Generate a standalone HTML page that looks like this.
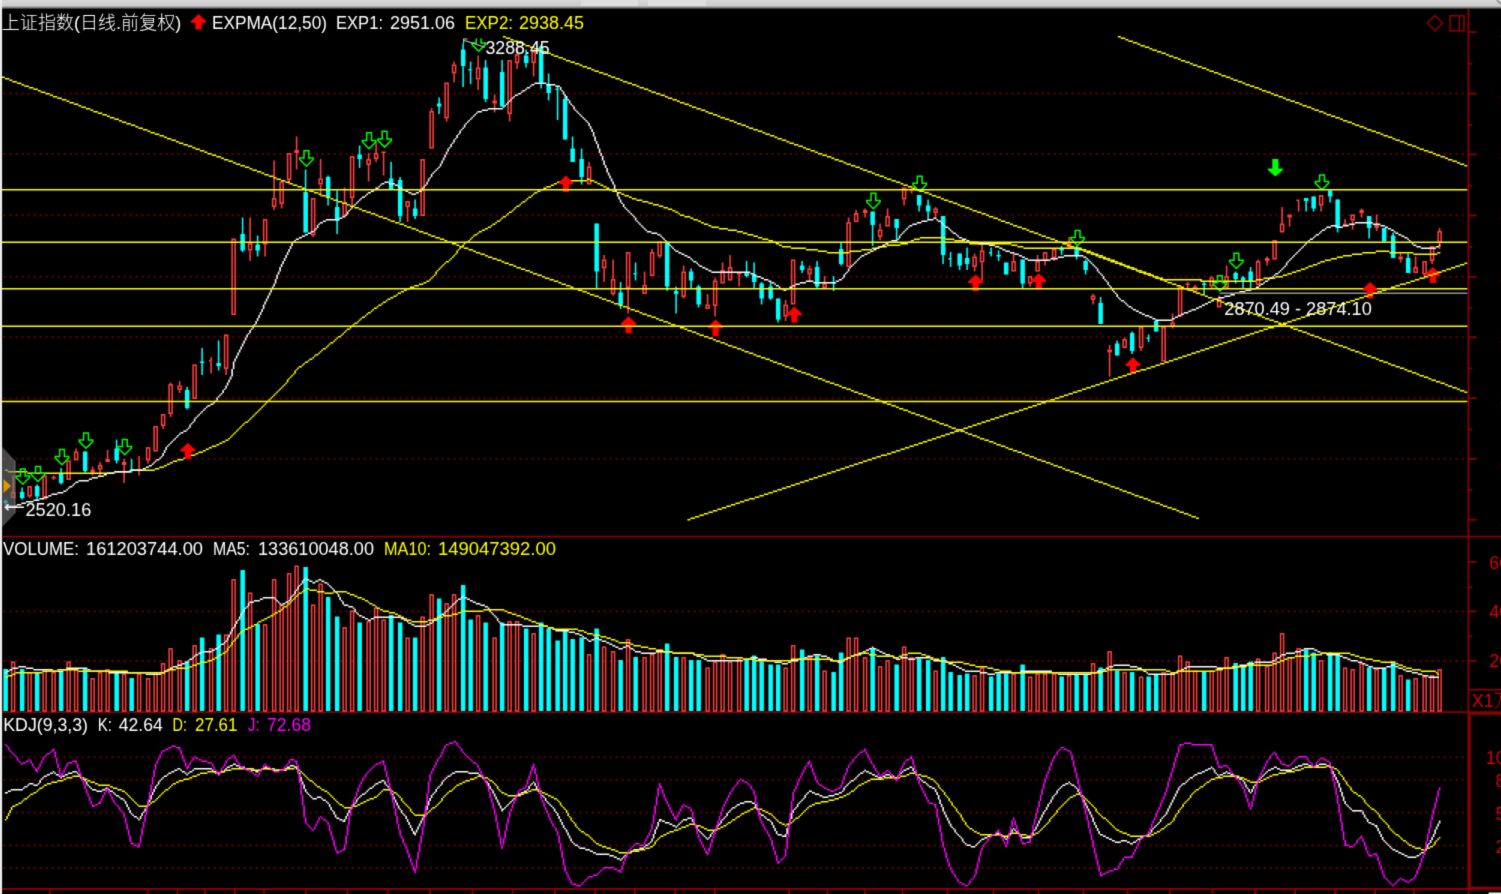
<!DOCTYPE html><html><head><meta charset="utf-8"><title>chart</title><style>html,body{margin:0;padding:0;background:#000;overflow:hidden}svg{display:block}text{font-family:"Liberation Sans","Noto Sans CJK SC",sans-serif;font-size:18px}</style></head><body>
<svg width="1501" height="894" viewBox="0 0 1501 894">
<defs><linearGradient id="tb" x1="0" y1="0" x2="0" y2="1"><stop offset="0" stop-color="#d6d6d6"/><stop offset="0.62" stop-color="#cdcdcd"/><stop offset="0.8" stop-color="#7a7a7a"/><stop offset="1" stop-color="#000"/></linearGradient>
<filter id="cv" x="0" y="0" width="1501" height="894" filterUnits="userSpaceOnUse" color-interpolation-filters="sRGB"><feConvolveMatrix order="3" kernelMatrix="1 6 1 6 36 6 1 6 1" divisor="64" edgeMode="duplicate" preserveAlpha="true"/></filter>
<clipPath id="cl"><rect x="2" y="35.5" width="1466" height="501"/></clipPath>
<clipPath id="cm"><rect x="2" y="38.5" width="1466" height="498"/></clipPath></defs>
<g filter="url(#cv)">
<rect width="1501" height="894" fill="#000"/>
<rect x="0" y="0" width="1501" height="9.5" fill="url(#tb)"/>
<rect x="581" y="0" width="57" height="6" fill="#dedede"/><rect x="648" y="0" width="58" height="6" fill="#dedede"/>
<circle cx="1503.5" cy="-3" r="7" fill="none" stroke="#8c8c8c" stroke-width="1.6"/>
<rect x="0" y="0" width="2.1" height="894" fill="#ebebeb"/>
<line x1="3.6" y1="93.6" x2="1464" y2="93.6" stroke="#680000" stroke-width="2" stroke-dasharray="2 4"/>
<line x1="3.6" y1="154.1" x2="1464" y2="154.1" stroke="#680000" stroke-width="2" stroke-dasharray="2 4"/>
<line x1="3.6" y1="215.3" x2="1464" y2="215.3" stroke="#680000" stroke-width="2" stroke-dasharray="2 4"/>
<line x1="3.6" y1="276.8" x2="1464" y2="276.8" stroke="#680000" stroke-width="2" stroke-dasharray="2 4"/>
<line x1="3.6" y1="337.1" x2="1464" y2="337.1" stroke="#680000" stroke-width="2" stroke-dasharray="2 4"/>
<line x1="3.6" y1="398.3" x2="1464" y2="398.3" stroke="#680000" stroke-width="2" stroke-dasharray="2 4"/>
<line x1="3.6" y1="458.7" x2="1464" y2="458.7" stroke="#680000" stroke-width="2" stroke-dasharray="2 4"/>
<line x1="3.6" y1="611.4" x2="1464" y2="611.4" stroke="#680000" stroke-width="2" stroke-dasharray="2 4"/>
<line x1="3.6" y1="661.1" x2="1464" y2="661.1" stroke="#680000" stroke-width="2" stroke-dasharray="2 4"/>
<line x1="3.6" y1="757.2" x2="1464" y2="757.2" stroke="#680000" stroke-width="2" stroke-dasharray="2 4"/>
<line x1="3.6" y1="779.7" x2="1464" y2="779.7" stroke="#680000" stroke-width="2" stroke-dasharray="2 4"/>
<line x1="3.6" y1="812.5" x2="1464" y2="812.5" stroke="#680000" stroke-width="2" stroke-dasharray="2 4"/>
<line x1="3.6" y1="845.4" x2="1464" y2="845.4" stroke="#680000" stroke-width="2" stroke-dasharray="2 4"/>
<line x1="3.6" y1="868.1" x2="1464" y2="868.1" stroke="#680000" stroke-width="2" stroke-dasharray="2 4"/>
<g id="candles">
<path d="M5.6 499.5V505.5" stroke="#00ffff" stroke-width="1.55"/><rect x="3.4" y="501.0" width="4.5" height="1.5" fill="#00ffff"/>
<path d="M13.1 475.5V492.0" stroke="#ff4040" stroke-width="1.55"/><rect x="11.62" y="492.8" width="3.0" height="4.5" fill="none" stroke="#ff4040" stroke-width="1.55"/>
<path d="M22.1 487.5V499.5" stroke="#00ffff" stroke-width="1.55"/><rect x="19.9" y="492.0" width="4.5" height="6.0" fill="#00ffff"/>
<path d="M29.6 496.5V498.0" stroke="#ff4040" stroke-width="1.55"/><rect x="28.12" y="486.8" width="3.0" height="9.0" fill="none" stroke="#ff4040" stroke-width="1.55"/>
<path d="M37.1 484.5V501.0" stroke="#00ffff" stroke-width="1.55"/><rect x="34.9" y="486.0" width="4.5" height="10.5" fill="#00ffff"/>
<rect x="43.12" y="476.2" width="3.0" height="22.5" fill="none" stroke="#ff4040" stroke-width="1.55"/>
<path d="M53.6 475.5V477.0" stroke="#ff4040" stroke-width="1.55"/><path d="M53.6 478.5V480.0" stroke="#ff4040" stroke-width="1.55"/><rect x="51.4" y="477.0" width="4.5" height="1.5" fill="#ff4040"/>
<path d="M61.1 468.0V484.5" stroke="#00ffff" stroke-width="1.55"/><rect x="58.9" y="474.0" width="4.5" height="9.0" fill="#00ffff"/>
<rect x="67.12" y="461.2" width="3.0" height="18.0" fill="none" stroke="#ff4040" stroke-width="1.55"/>
<path d="M76.1 448.5V451.5" stroke="#ff4040" stroke-width="1.55"/><rect x="74.62" y="452.2" width="3.0" height="7.5" fill="none" stroke="#ff4040" stroke-width="1.55"/>
<path d="M85.1 451.5V472.5" stroke="#00ffff" stroke-width="1.55"/><rect x="82.9" y="451.5" width="4.5" height="19.5" fill="#00ffff"/>
<path d="M92.6 466.5V469.5" stroke="#ff4040" stroke-width="1.55"/><path d="M92.6 472.5V475.5" stroke="#ff4040" stroke-width="1.55"/><rect x="90.4" y="469.5" width="4.5" height="3.0" fill="#ff4040"/>
<path d="M100.1 462.0V465.0" stroke="#ff4040" stroke-width="1.55"/><path d="M100.1 469.5V475.5" stroke="#ff4040" stroke-width="1.55"/><rect x="98.62" y="465.8" width="3.0" height="3.0" fill="none" stroke="#ff4040" stroke-width="1.55"/>
<path d="M107.6 450.0V459.0" stroke="#ff4040" stroke-width="1.55"/><rect x="105.4" y="459.0" width="4.5" height="3.0" fill="#ff4040"/>
<path d="M116.6 439.5V463.5" stroke="#00ffff" stroke-width="1.55"/><rect x="114.4" y="448.5" width="4.5" height="12.0" fill="#00ffff"/>
<path d="M124.1 459.0V462.0" stroke="#ff4040" stroke-width="1.55"/><path d="M124.1 465.0V483.0" stroke="#ff4040" stroke-width="1.55"/><rect x="121.9" y="462.0" width="4.5" height="3.0" fill="#ff4040"/>
<path d="M131.6 459.0V472.5" stroke="#00ffff" stroke-width="1.55"/><rect x="129.4" y="469.5" width="4.5" height="1.5" fill="#00ffff"/>
<path d="M139.1 456.0V469.5" stroke="#ff4040" stroke-width="1.55"/><path d="M139.1 471.0V475.5" stroke="#ff4040" stroke-width="1.55"/><rect x="136.9" y="469.5" width="4.5" height="1.5" fill="#ff4040"/>
<path d="M148.1 460.5V463.5" stroke="#ff4040" stroke-width="1.55"/><rect x="146.62" y="447.8" width="3.0" height="12.0" fill="none" stroke="#ff4040" stroke-width="1.55"/>
<rect x="154.12" y="426.8" width="3.0" height="24.0" fill="none" stroke="#ff4040" stroke-width="1.55"/>
<path d="M163.1 426.0V429.0" stroke="#ff4040" stroke-width="1.55"/><rect x="161.62" y="414.8" width="3.0" height="10.5" fill="none" stroke="#ff4040" stroke-width="1.55"/>
<path d="M170.6 382.5V384.0" stroke="#ff4040" stroke-width="1.55"/><path d="M170.6 414.0V417.0" stroke="#ff4040" stroke-width="1.55"/><rect x="169.12" y="384.8" width="3.0" height="28.5" fill="none" stroke="#ff4040" stroke-width="1.55"/>
<path d="M179.6 381.0V385.5" stroke="#ff4040" stroke-width="1.55"/><path d="M179.6 390.0V393.0" stroke="#ff4040" stroke-width="1.55"/><rect x="178.12" y="386.2" width="3.0" height="3.0" fill="none" stroke="#ff4040" stroke-width="1.55"/>
<path d="M187.1 387.0V409.5" stroke="#00ffff" stroke-width="1.55"/><rect x="184.9" y="390.0" width="4.5" height="18.0" fill="#00ffff"/>
<rect x="193.12" y="365.2" width="3.0" height="33.0" fill="none" stroke="#ff4040" stroke-width="1.55"/>
<path d="M202.1 348.0V375.0" stroke="#00ffff" stroke-width="1.55"/><rect x="199.9" y="361.5" width="4.5" height="1.5" fill="#00ffff"/>
<path d="M211.1 357.0V360.0" stroke="#ff4040" stroke-width="1.55"/><path d="M211.1 361.5V373.5" stroke="#ff4040" stroke-width="1.55"/><rect x="208.9" y="360.0" width="3.0" height="1.5" fill="#ff4040"/>
<path d="M218.6 340.5V370.5" stroke="#00ffff" stroke-width="1.55"/><rect x="216.4" y="363.0" width="4.5" height="3.0" fill="#00ffff"/>
<path d="M226.1 369.0V375.0" stroke="#ff4040" stroke-width="1.55"/><rect x="224.62" y="335.2" width="3.0" height="33.0" fill="none" stroke="#ff4040" stroke-width="1.55"/>
<rect x="232.12" y="239.2" width="3.0" height="75.0" fill="none" stroke="#ff4040" stroke-width="1.55"/>
<path d="M242.6 217.5V252.0" stroke="#00ffff" stroke-width="1.55"/><rect x="240.4" y="234.0" width="4.5" height="16.5" fill="#00ffff"/>
<path d="M250.1 217.5V243.0" stroke="#ff4040" stroke-width="1.55"/><path d="M250.1 250.5V261.0" stroke="#ff4040" stroke-width="1.55"/><rect x="248.62" y="243.8" width="3.0" height="6.0" fill="none" stroke="#ff4040" stroke-width="1.55"/>
<path d="M257.6 235.5V256.5" stroke="#00ffff" stroke-width="1.55"/><rect x="255.4" y="244.5" width="4.5" height="6.0" fill="#00ffff"/>
<path d="M265.1 244.5V256.5" stroke="#ff4040" stroke-width="1.55"/><rect x="263.62" y="219.8" width="3.0" height="24.0" fill="none" stroke="#ff4040" stroke-width="1.55"/>
<path d="M274.1 160.5V198.0" stroke="#ff4040" stroke-width="1.55"/><path d="M274.1 207.0V210.0" stroke="#ff4040" stroke-width="1.55"/><rect x="272.62" y="198.8" width="3.0" height="7.5" fill="none" stroke="#ff4040" stroke-width="1.55"/>
<path d="M281.6 204.0V208.5" stroke="#ff4040" stroke-width="1.55"/><rect x="280.12" y="182.2" width="3.0" height="21.0" fill="none" stroke="#ff4040" stroke-width="1.55"/>
<path d="M289.1 180.0V184.5" stroke="#ff4040" stroke-width="1.55"/><rect x="287.62" y="153.8" width="3.0" height="25.5" fill="none" stroke="#ff4040" stroke-width="1.55"/>
<path d="M296.6 136.5V150.0" stroke="#ff4040" stroke-width="1.55"/><path d="M296.6 153.0V169.5" stroke="#ff4040" stroke-width="1.55"/><rect x="294.4" y="150.0" width="4.5" height="3.0" fill="#ff4040"/>
<path d="M305.6 169.5V232.5" stroke="#00ffff" stroke-width="1.55"/><rect x="303.4" y="192.0" width="4.5" height="40.5" fill="#00ffff"/>
<path d="M313.1 235.5V237.0" stroke="#ff4040" stroke-width="1.55"/><rect x="311.62" y="198.8" width="3.0" height="36.0" fill="none" stroke="#ff4040" stroke-width="1.55"/>
<path d="M320.6 159.0V178.5" stroke="#ff4040" stroke-width="1.55"/><path d="M320.6 184.5V196.5" stroke="#ff4040" stroke-width="1.55"/><rect x="319.12" y="179.2" width="3.0" height="4.5" fill="none" stroke="#ff4040" stroke-width="1.55"/>
<path d="M328.1 175.5V205.5" stroke="#00ffff" stroke-width="1.55"/><rect x="325.9" y="177.0" width="4.5" height="19.5" fill="#00ffff"/>
<path d="M337.1 190.5V234.0" stroke="#00ffff" stroke-width="1.55"/><rect x="334.9" y="207.0" width="4.5" height="13.5" fill="#00ffff"/>
<path d="M344.6 187.5V202.5" stroke="#ff4040" stroke-width="1.55"/><rect x="343.12" y="203.2" width="3.0" height="12.0" fill="none" stroke="#ff4040" stroke-width="1.55"/>
<path d="M352.1 198.0V205.5" stroke="#ff4040" stroke-width="1.55"/><rect x="350.62" y="156.8" width="3.0" height="40.5" fill="none" stroke="#ff4040" stroke-width="1.55"/>
<path d="M359.6 145.5V168.0" stroke="#00ffff" stroke-width="1.55"/><rect x="357.4" y="154.5" width="4.5" height="4.5" fill="#00ffff"/>
<path d="M368.6 153.0V159.0" stroke="#ff4040" stroke-width="1.55"/><path d="M368.6 165.0V181.5" stroke="#ff4040" stroke-width="1.55"/><rect x="367.12" y="159.8" width="3.0" height="4.5" fill="none" stroke="#ff4040" stroke-width="1.55"/>
<path d="M376.1 142.5V153.0" stroke="#ff4040" stroke-width="1.55"/><path d="M376.1 159.0V162.0" stroke="#ff4040" stroke-width="1.55"/><rect x="374.62" y="153.8" width="3.0" height="4.5" fill="none" stroke="#ff4040" stroke-width="1.55"/>
<path d="M383.6 153.0V175.5" stroke="#ff4040" stroke-width="1.55"/><rect x="381.4" y="151.5" width="4.5" height="1.5" fill="#ff4040"/>
<path d="M391.1 162.0V189.0" stroke="#00ffff" stroke-width="1.55"/><rect x="388.9" y="178.5" width="4.5" height="10.5" fill="#00ffff"/>
<path d="M400.1 177.0V222.0" stroke="#00ffff" stroke-width="1.55"/><rect x="397.9" y="180.0" width="4.5" height="36.0" fill="#00ffff"/>
<path d="M407.6 207.0V222.0" stroke="#ff4040" stroke-width="1.55"/><rect x="406.12" y="201.8" width="3.0" height="4.5" fill="none" stroke="#ff4040" stroke-width="1.55"/>
<path d="M415.1 199.5V219.0" stroke="#00ffff" stroke-width="1.55"/><rect x="412.9" y="208.5" width="4.5" height="7.5" fill="#00ffff"/>
<rect x="421.12" y="159.8" width="3.0" height="55.5" fill="none" stroke="#ff4040" stroke-width="1.55"/>
<path d="M431.6 108.0V111.0" stroke="#ff4040" stroke-width="1.55"/><rect x="430.12" y="111.8" width="3.0" height="36.0" fill="none" stroke="#ff4040" stroke-width="1.55"/>
<path d="M439.1 97.5V114.0" stroke="#00ffff" stroke-width="1.55"/><rect x="436.9" y="103.5" width="4.5" height="3.0" fill="#00ffff"/>
<path d="M446.6 118.5V121.5" stroke="#ff4040" stroke-width="1.55"/><rect x="445.12" y="83.2" width="3.0" height="34.5" fill="none" stroke="#ff4040" stroke-width="1.55"/>
<path d="M454.1 61.5V64.5" stroke="#ff4040" stroke-width="1.55"/><path d="M454.1 73.5V82.5" stroke="#ff4040" stroke-width="1.55"/><rect x="452.62" y="65.2" width="3.0" height="7.5" fill="none" stroke="#ff4040" stroke-width="1.55"/>
<path d="M463.1 43.5V87.0" stroke="#00ffff" stroke-width="1.55"/><rect x="460.9" y="49.5" width="4.5" height="16.5" fill="#00ffff"/>
<path d="M470.6 61.5V84.0" stroke="#00ffff" stroke-width="1.55"/><rect x="468.4" y="69.0" width="3.0" height="1.5" fill="#00ffff"/>
<path d="M478.1 55.5V67.5" stroke="#ff4040" stroke-width="1.55"/><path d="M478.1 79.5V90.0" stroke="#ff4040" stroke-width="1.55"/><rect x="476.62" y="68.2" width="3.0" height="10.5" fill="none" stroke="#ff4040" stroke-width="1.55"/>
<path d="M485.6 60.0V102.0" stroke="#00ffff" stroke-width="1.55"/><rect x="483.4" y="67.5" width="4.5" height="31.5" fill="#00ffff"/>
<path d="M494.6 94.5V100.5" stroke="#ff4040" stroke-width="1.55"/><path d="M494.6 103.5V112.5" stroke="#ff4040" stroke-width="1.55"/><rect x="492.4" y="100.5" width="4.5" height="3.0" fill="#ff4040"/>
<path d="M502.1 60.0V106.5" stroke="#00ffff" stroke-width="1.55"/><rect x="499.9" y="72.0" width="4.5" height="34.5" fill="#00ffff"/>
<path d="M509.6 114.0V121.5" stroke="#ff4040" stroke-width="1.55"/><rect x="508.12" y="60.8" width="3.0" height="52.5" fill="none" stroke="#ff4040" stroke-width="1.55"/>
<path d="M517.1 46.5V54.0" stroke="#ff4040" stroke-width="1.55"/><path d="M517.1 63.0V69.0" stroke="#ff4040" stroke-width="1.55"/><rect x="515.62" y="54.8" width="3.0" height="7.5" fill="none" stroke="#ff4040" stroke-width="1.55"/>
<path d="M526.1 49.5V67.5" stroke="#00ffff" stroke-width="1.55"/><rect x="523.9" y="55.5" width="4.5" height="7.5" fill="#00ffff"/>
<path d="M533.6 49.5V51.0" stroke="#ff4040" stroke-width="1.55"/><path d="M533.6 63.0V76.5" stroke="#ff4040" stroke-width="1.55"/><rect x="532.12" y="51.8" width="3.0" height="10.5" fill="none" stroke="#ff4040" stroke-width="1.55"/>
<path d="M541.1 45.0V88.5" stroke="#00ffff" stroke-width="1.55"/><rect x="538.9" y="46.5" width="4.5" height="36.0" fill="#00ffff"/>
<path d="M548.6 73.5V100.5" stroke="#00ffff" stroke-width="1.55"/><rect x="546.4" y="84.0" width="4.5" height="9.0" fill="#00ffff"/>
<path d="M557.6 87.0V120.0" stroke="#00ffff" stroke-width="1.55"/><rect x="555.4" y="88.5" width="3.0" height="1.5" fill="#00ffff"/>
<path d="M565.1 94.5V139.5" stroke="#00ffff" stroke-width="1.55"/><rect x="562.9" y="99.0" width="4.5" height="40.5" fill="#00ffff"/>
<path d="M572.6 136.5V162.0" stroke="#00ffff" stroke-width="1.55"/><rect x="570.4" y="148.5" width="4.5" height="13.5" fill="#00ffff"/>
<path d="M581.6 148.5V184.5" stroke="#00ffff" stroke-width="1.55"/><rect x="579.4" y="159.0" width="4.5" height="18.0" fill="#00ffff"/>
<path d="M589.1 162.0V166.5" stroke="#ff4040" stroke-width="1.55"/><rect x="587.62" y="167.2" width="3.0" height="16.5" fill="none" stroke="#ff4040" stroke-width="1.55"/>
<path d="M596.6 223.5V288.0" stroke="#00ffff" stroke-width="1.55"/><rect x="594.4" y="223.5" width="4.5" height="48.0" fill="#00ffff"/>
<path d="M604.1 255.0V259.5" stroke="#ff4040" stroke-width="1.55"/><path d="M604.1 268.5V282.0" stroke="#ff4040" stroke-width="1.55"/><rect x="602.62" y="260.2" width="3.0" height="7.5" fill="none" stroke="#ff4040" stroke-width="1.55"/>
<path d="M613.1 259.5V279.0" stroke="#ff4040" stroke-width="1.55"/><path d="M613.1 294.0V295.5" stroke="#ff4040" stroke-width="1.55"/><rect x="611.62" y="279.8" width="3.0" height="13.5" fill="none" stroke="#ff4040" stroke-width="1.55"/>
<path d="M620.6 282.0V309.0" stroke="#00ffff" stroke-width="1.55"/><rect x="618.4" y="292.5" width="4.5" height="12.0" fill="#00ffff"/>
<path d="M628.1 288.0V313.5" stroke="#ff4040" stroke-width="1.55"/><rect x="626.62" y="252.8" width="3.0" height="34.5" fill="none" stroke="#ff4040" stroke-width="1.55"/>
<path d="M635.6 262.5V280.5" stroke="#00ffff" stroke-width="1.55"/><rect x="633.4" y="273.0" width="3.0" height="1.5" fill="#00ffff"/>
<path d="M644.6 271.5V285.0" stroke="#ff4040" stroke-width="1.55"/><rect x="643.12" y="285.8" width="3.0" height="7.5" fill="none" stroke="#ff4040" stroke-width="1.55"/>
<path d="M652.1 249.0V252.0" stroke="#ff4040" stroke-width="1.55"/><rect x="650.62" y="252.8" width="3.0" height="22.5" fill="none" stroke="#ff4040" stroke-width="1.55"/>
<path d="M659.6 256.5V258.0" stroke="#ff4040" stroke-width="1.55"/><rect x="658.12" y="242.2" width="3.0" height="13.5" fill="none" stroke="#ff4040" stroke-width="1.55"/>
<path d="M667.1 243.0V291.0" stroke="#00ffff" stroke-width="1.55"/><rect x="664.9" y="243.0" width="4.5" height="43.5" fill="#00ffff"/>
<path d="M676.1 286.5V313.5" stroke="#00ffff" stroke-width="1.55"/><rect x="673.9" y="291.0" width="4.5" height="3.0" fill="#00ffff"/>
<path d="M683.6 265.5V271.5" stroke="#ff4040" stroke-width="1.55"/><path d="M683.6 297.0V298.5" stroke="#ff4040" stroke-width="1.55"/><rect x="682.12" y="272.2" width="3.0" height="24.0" fill="none" stroke="#ff4040" stroke-width="1.55"/>
<path d="M691.1 268.5V288.0" stroke="#00ffff" stroke-width="1.55"/><rect x="688.9" y="271.5" width="4.5" height="9.0" fill="#00ffff"/>
<path d="M698.6 285.0V307.5" stroke="#00ffff" stroke-width="1.55"/><rect x="696.4" y="286.5" width="4.5" height="18.0" fill="#00ffff"/>
<path d="M707.6 294.0V304.5" stroke="#ff4040" stroke-width="1.55"/><rect x="706.12" y="305.2" width="3.0" height="3.0" fill="none" stroke="#ff4040" stroke-width="1.55"/>
<path d="M715.1 277.5V280.5" stroke="#ff4040" stroke-width="1.55"/><path d="M715.1 306.0V316.5" stroke="#ff4040" stroke-width="1.55"/><rect x="713.62" y="281.2" width="3.0" height="24.0" fill="none" stroke="#ff4040" stroke-width="1.55"/>
<path d="M722.6 262.5V270.0" stroke="#ff4040" stroke-width="1.55"/><rect x="721.12" y="270.8" width="3.0" height="12.0" fill="none" stroke="#ff4040" stroke-width="1.55"/>
<path d="M730.1 255.0V267.0" stroke="#ff4040" stroke-width="1.55"/><rect x="728.62" y="267.8" width="3.0" height="12.0" fill="none" stroke="#ff4040" stroke-width="1.55"/>
<path d="M739.1 274.5V286.5" stroke="#ff4040" stroke-width="1.55"/><rect x="736.9" y="273.0" width="4.5" height="1.5" fill="#ff4040"/>
<path d="M746.6 261.0V277.5" stroke="#00ffff" stroke-width="1.55"/><rect x="744.4" y="273.0" width="4.5" height="3.0" fill="#00ffff"/>
<path d="M754.1 262.5V288.0" stroke="#00ffff" stroke-width="1.55"/><rect x="751.9" y="274.5" width="4.5" height="7.5" fill="#00ffff"/>
<path d="M761.6 282.0V304.5" stroke="#00ffff" stroke-width="1.55"/><rect x="759.4" y="283.5" width="4.5" height="15.0" fill="#00ffff"/>
<path d="M770.6 282.0V300.0" stroke="#00ffff" stroke-width="1.55"/><rect x="768.4" y="286.5" width="4.5" height="12.0" fill="#00ffff"/>
<path d="M778.1 298.5V322.5" stroke="#00ffff" stroke-width="1.55"/><rect x="775.9" y="298.5" width="4.5" height="21.0" fill="#00ffff"/>
<path d="M785.6 300.0V304.5" stroke="#ff4040" stroke-width="1.55"/><path d="M785.6 316.5V321.0" stroke="#ff4040" stroke-width="1.55"/><rect x="784.12" y="305.2" width="3.0" height="10.5" fill="none" stroke="#ff4040" stroke-width="1.55"/>
<rect x="791.62" y="260.2" width="3.0" height="43.5" fill="none" stroke="#ff4040" stroke-width="1.55"/>
<path d="M802.1 261.0V273.0" stroke="#00ffff" stroke-width="1.55"/><rect x="799.9" y="265.5" width="4.5" height="4.5" fill="#00ffff"/>
<path d="M809.6 265.5V268.5" stroke="#ff4040" stroke-width="1.55"/><path d="M809.6 274.5V282.0" stroke="#ff4040" stroke-width="1.55"/><rect x="808.12" y="269.2" width="3.0" height="4.5" fill="none" stroke="#ff4040" stroke-width="1.55"/>
<path d="M817.1 261.0V288.0" stroke="#00ffff" stroke-width="1.55"/><rect x="814.9" y="267.0" width="4.5" height="19.5" fill="#00ffff"/>
<path d="M824.6 276.0V283.5" stroke="#ff4040" stroke-width="1.55"/><rect x="823.12" y="284.2" width="3.0" height="3.0" fill="none" stroke="#ff4040" stroke-width="1.55"/>
<path d="M833.6 276.0V291.0" stroke="#00ffff" stroke-width="1.55"/><rect x="831.4" y="282.0" width="4.5" height="1.5" fill="#00ffff"/>
<path d="M841.1 243.0V265.5" stroke="#00ffff" stroke-width="1.55"/><rect x="838.9" y="249.0" width="4.5" height="15.0" fill="#00ffff"/>
<path d="M848.6 217.5V222.0" stroke="#ff4040" stroke-width="1.55"/><rect x="847.12" y="222.8" width="3.0" height="43.5" fill="none" stroke="#ff4040" stroke-width="1.55"/>
<path d="M856.1 210.0V213.0" stroke="#ff4040" stroke-width="1.55"/><rect x="854.62" y="213.8" width="3.0" height="7.5" fill="none" stroke="#ff4040" stroke-width="1.55"/>
<path d="M865.1 208.5V210.0" stroke="#ff4040" stroke-width="1.55"/><path d="M865.1 213.0V217.5" stroke="#ff4040" stroke-width="1.55"/><rect x="862.9" y="210.0" width="4.5" height="3.0" fill="#ff4040"/>
<path d="M872.6 211.5V246.0" stroke="#00ffff" stroke-width="1.55"/><rect x="870.4" y="211.5" width="4.5" height="13.5" fill="#00ffff"/>
<path d="M880.1 223.5V229.5" stroke="#ff4040" stroke-width="1.55"/><path d="M880.1 237.0V240.0" stroke="#ff4040" stroke-width="1.55"/><rect x="878.62" y="230.2" width="3.0" height="6.0" fill="none" stroke="#ff4040" stroke-width="1.55"/>
<path d="M887.6 208.5V216.0" stroke="#ff4040" stroke-width="1.55"/><rect x="886.12" y="216.8" width="3.0" height="9.0" fill="none" stroke="#ff4040" stroke-width="1.55"/>
<path d="M896.6 219.0V240.0" stroke="#00ffff" stroke-width="1.55"/><rect x="894.4" y="219.0" width="4.5" height="9.0" fill="#00ffff"/>
<path d="M904.1 199.5V205.5" stroke="#ff4040" stroke-width="1.55"/><rect x="902.62" y="188.2" width="3.0" height="10.5" fill="none" stroke="#ff4040" stroke-width="1.55"/>
<path d="M911.6 187.5V189.0" stroke="#ff4040" stroke-width="1.55"/><path d="M911.6 190.5V193.5" stroke="#ff4040" stroke-width="1.55"/><rect x="909.4" y="189.0" width="4.5" height="1.5" fill="#ff4040"/>
<path d="M919.1 195.0V211.5" stroke="#00ffff" stroke-width="1.55"/><rect x="916.9" y="195.0" width="4.5" height="10.5" fill="#00ffff"/>
<path d="M928.1 199.5V219.0" stroke="#00ffff" stroke-width="1.55"/><rect x="925.9" y="205.5" width="4.5" height="6.0" fill="#00ffff"/>
<path d="M935.6 207.0V208.5" stroke="#ff4040" stroke-width="1.55"/><path d="M935.6 213.0V217.5" stroke="#ff4040" stroke-width="1.55"/><rect x="934.12" y="209.2" width="3.0" height="3.0" fill="none" stroke="#ff4040" stroke-width="1.55"/>
<path d="M943.1 216.0V264.0" stroke="#00ffff" stroke-width="1.55"/><rect x="940.9" y="216.0" width="4.5" height="39.0" fill="#00ffff"/>
<path d="M950.6 252.0V267.0" stroke="#00ffff" stroke-width="1.55"/><rect x="948.4" y="258.0" width="3.0" height="1.5" fill="#00ffff"/>
<path d="M959.6 253.5V270.0" stroke="#00ffff" stroke-width="1.55"/><rect x="957.4" y="253.5" width="4.5" height="12.0" fill="#00ffff"/>
<path d="M967.1 247.5V270.0" stroke="#00ffff" stroke-width="1.55"/><rect x="964.9" y="258.0" width="4.5" height="6.0" fill="#00ffff"/>
<path d="M974.6 253.5V256.5" stroke="#ff4040" stroke-width="1.55"/><path d="M974.6 267.0V271.5" stroke="#ff4040" stroke-width="1.55"/><rect x="973.12" y="257.2" width="3.0" height="9.0" fill="none" stroke="#ff4040" stroke-width="1.55"/>
<path d="M982.1 244.5V250.5" stroke="#ff4040" stroke-width="1.55"/><path d="M982.1 262.5V280.5" stroke="#ff4040" stroke-width="1.55"/><rect x="980.62" y="251.2" width="3.0" height="10.5" fill="none" stroke="#ff4040" stroke-width="1.55"/>
<path d="M991.1 247.5V256.5" stroke="#00ffff" stroke-width="1.55"/><rect x="988.9" y="252.0" width="3.0" height="1.5" fill="#00ffff"/>
<path d="M998.6 250.5V261.0" stroke="#00ffff" stroke-width="1.55"/><rect x="996.4" y="255.0" width="4.5" height="1.5" fill="#00ffff"/>
<path d="M1006.1 262.5V274.5" stroke="#00ffff" stroke-width="1.55"/><rect x="1003.9" y="262.5" width="4.5" height="12.0" fill="#00ffff"/>
<path d="M1013.6 253.5V261.0" stroke="#ff4040" stroke-width="1.55"/><rect x="1012.12" y="261.8" width="3.0" height="9.0" fill="none" stroke="#ff4040" stroke-width="1.55"/>
<path d="M1022.6 259.5V288.0" stroke="#00ffff" stroke-width="1.55"/><rect x="1020.4" y="259.5" width="4.5" height="24.0" fill="#00ffff"/>
<path d="M1030.1 283.5V286.5" stroke="#ff4040" stroke-width="1.55"/><rect x="1028.62" y="276.8" width="3.0" height="6.0" fill="none" stroke="#ff4040" stroke-width="1.55"/>
<path d="M1037.6 255.0V261.0" stroke="#ff4040" stroke-width="1.55"/><rect x="1036.12" y="261.8" width="3.0" height="9.0" fill="none" stroke="#ff4040" stroke-width="1.55"/>
<path d="M1045.1 261.0V265.5" stroke="#ff4040" stroke-width="1.55"/><rect x="1043.62" y="252.8" width="3.0" height="7.5" fill="none" stroke="#ff4040" stroke-width="1.55"/>
<path d="M1054.1 258.0V261.0" stroke="#ff4040" stroke-width="1.55"/><rect x="1052.62" y="249.8" width="3.0" height="7.5" fill="none" stroke="#ff4040" stroke-width="1.55"/>
<path d="M1061.6 246.0V255.0" stroke="#00ffff" stroke-width="1.55"/><rect x="1059.4" y="249.0" width="4.5" height="1.5" fill="#00ffff"/>
<path d="M1069.1 237.0V243.0" stroke="#ff4040" stroke-width="1.55"/><rect x="1067.62" y="243.8" width="3.0" height="3.0" fill="none" stroke="#ff4040" stroke-width="1.55"/>
<path d="M1076.6 246.0V259.5" stroke="#00ffff" stroke-width="1.55"/><rect x="1074.4" y="247.5" width="4.5" height="7.5" fill="#00ffff"/>
<path d="M1085.6 259.5V274.5" stroke="#00ffff" stroke-width="1.55"/><rect x="1083.4" y="261.0" width="4.5" height="9.0" fill="#00ffff"/>
<path d="M1093.1 294.0V295.5" stroke="#ff4040" stroke-width="1.55"/><path d="M1093.1 300.0V304.5" stroke="#ff4040" stroke-width="1.55"/><rect x="1091.62" y="296.2" width="3.0" height="3.0" fill="none" stroke="#ff4040" stroke-width="1.55"/>
<path d="M1100.6 297.0V324.0" stroke="#00ffff" stroke-width="1.55"/><rect x="1098.4" y="303.0" width="4.5" height="21.0" fill="#00ffff"/>
<path d="M1109.6 345.0V349.5" stroke="#ff4040" stroke-width="1.55"/><path d="M1109.6 352.5V376.5" stroke="#ff4040" stroke-width="1.55"/><rect x="1107.4" y="349.5" width="4.5" height="3.0" fill="#ff4040"/>
<path d="M1117.1 340.5V355.5" stroke="#00ffff" stroke-width="1.55"/><rect x="1114.9" y="343.5" width="4.5" height="12.0" fill="#00ffff"/>
<path d="M1124.6 337.5V339.0" stroke="#ff4040" stroke-width="1.55"/><rect x="1123.12" y="339.8" width="3.0" height="7.5" fill="none" stroke="#ff4040" stroke-width="1.55"/>
<path d="M1132.1 331.5V354.0" stroke="#00ffff" stroke-width="1.55"/><rect x="1129.9" y="333.0" width="4.5" height="18.0" fill="#00ffff"/>
<path d="M1141.1 348.0V351.0" stroke="#ff4040" stroke-width="1.55"/><rect x="1139.62" y="327.8" width="3.0" height="19.5" fill="none" stroke="#ff4040" stroke-width="1.55"/>
<path d="M1148.6 334.5V342.0" stroke="#00ffff" stroke-width="1.55"/><rect x="1146.4" y="337.5" width="3.0" height="1.5" fill="#00ffff"/>
<path d="M1156.1 319.5V331.5" stroke="#00ffff" stroke-width="1.55"/><rect x="1153.9" y="321.0" width="4.5" height="10.5" fill="#00ffff"/>
<rect x="1162.12" y="327.8" width="3.0" height="33.0" fill="none" stroke="#ff4040" stroke-width="1.55"/>
<path d="M1172.6 313.5V322.5" stroke="#ff4040" stroke-width="1.55"/><path d="M1172.6 327.0V328.5" stroke="#ff4040" stroke-width="1.55"/><rect x="1171.12" y="323.2" width="3.0" height="3.0" fill="none" stroke="#ff4040" stroke-width="1.55"/>
<rect x="1178.62" y="287.2" width="3.0" height="28.5" fill="none" stroke="#ff4040" stroke-width="1.55"/>
<path d="M1187.6 282.0V283.5" stroke="#ff4040" stroke-width="1.55"/><path d="M1187.6 285.0V291.0" stroke="#ff4040" stroke-width="1.55"/><rect x="1185.4" y="283.5" width="4.5" height="1.5" fill="#ff4040"/>
<path d="M1195.1 285.0V286.5" stroke="#ff4040" stroke-width="1.55"/><rect x="1193.62" y="287.2" width="3.0" height="4.5" fill="none" stroke="#ff4040" stroke-width="1.55"/>
<path d="M1204.1 282.0V294.0" stroke="#00ffff" stroke-width="1.55"/><rect x="1201.9" y="283.5" width="4.5" height="1.5" fill="#00ffff"/>
<path d="M1211.6 276.0V277.5" stroke="#ff4040" stroke-width="1.55"/><path d="M1211.6 286.5V288.0" stroke="#ff4040" stroke-width="1.55"/><rect x="1210.12" y="278.2" width="3.0" height="7.5" fill="none" stroke="#ff4040" stroke-width="1.55"/>
<path d="M1219.1 295.5V298.5" stroke="#ff4040" stroke-width="1.55"/><rect x="1217.62" y="299.2" width="3.0" height="7.5" fill="none" stroke="#ff4040" stroke-width="1.55"/>
<path d="M1226.6 265.5V276.0" stroke="#ff4040" stroke-width="1.55"/><rect x="1225.12" y="276.8" width="3.0" height="10.5" fill="none" stroke="#ff4040" stroke-width="1.55"/>
<path d="M1235.6 271.5V283.5" stroke="#00ffff" stroke-width="1.55"/><rect x="1233.4" y="273.0" width="4.5" height="6.0" fill="#00ffff"/>
<path d="M1243.1 276.0V288.0" stroke="#00ffff" stroke-width="1.55"/><rect x="1240.9" y="277.5" width="4.5" height="3.0" fill="#00ffff"/>
<path d="M1250.6 267.0V288.0" stroke="#00ffff" stroke-width="1.55"/><rect x="1248.4" y="271.5" width="4.5" height="10.5" fill="#00ffff"/>
<path d="M1258.1 259.5V261.0" stroke="#ff4040" stroke-width="1.55"/><rect x="1256.62" y="261.8" width="3.0" height="22.5" fill="none" stroke="#ff4040" stroke-width="1.55"/>
<path d="M1267.1 256.5V258.0" stroke="#ff4040" stroke-width="1.55"/><path d="M1267.1 261.0V265.5" stroke="#ff4040" stroke-width="1.55"/><rect x="1264.9" y="258.0" width="4.5" height="3.0" fill="#ff4040"/>
<rect x="1273.12" y="240.8" width="3.0" height="18.0" fill="none" stroke="#ff4040" stroke-width="1.55"/>
<path d="M1282.1 207.0V223.5" stroke="#ff4040" stroke-width="1.55"/><rect x="1280.62" y="224.2" width="3.0" height="7.5" fill="none" stroke="#ff4040" stroke-width="1.55"/>
<path d="M1289.6 217.5V226.5" stroke="#ff4040" stroke-width="1.55"/><rect x="1287.4" y="214.5" width="4.5" height="3.0" fill="#ff4040"/>
<path d="M1298.6 201.0V211.5" stroke="#ff4040" stroke-width="1.55"/><rect x="1296.4" y="199.5" width="3.0" height="1.5" fill="#ff4040"/>
<path d="M1306.1 198.0V211.5" stroke="#00ffff" stroke-width="1.55"/><rect x="1303.9" y="198.0" width="4.5" height="3.0" fill="#00ffff"/>
<path d="M1313.6 196.5V211.5" stroke="#00ffff" stroke-width="1.55"/><rect x="1311.4" y="196.5" width="4.5" height="12.0" fill="#00ffff"/>
<path d="M1321.1 205.5V211.5" stroke="#ff4040" stroke-width="1.55"/><rect x="1319.62" y="195.8" width="3.0" height="9.0" fill="none" stroke="#ff4040" stroke-width="1.55"/>
<path d="M1330.1 190.5V202.5" stroke="#00ffff" stroke-width="1.55"/><rect x="1327.9" y="190.5" width="4.5" height="6.0" fill="#00ffff"/>
<path d="M1337.6 199.5V232.5" stroke="#00ffff" stroke-width="1.55"/><rect x="1335.4" y="199.5" width="4.5" height="28.5" fill="#00ffff"/>
<path d="M1345.1 219.0V223.5" stroke="#ff4040" stroke-width="1.55"/><rect x="1342.9" y="223.5" width="4.5" height="1.5" fill="#ff4040"/>
<path d="M1352.6 220.5V229.5" stroke="#ff4040" stroke-width="1.55"/><rect x="1351.12" y="215.2" width="3.0" height="4.5" fill="none" stroke="#ff4040" stroke-width="1.55"/>
<path d="M1361.6 208.5V210.0" stroke="#ff4040" stroke-width="1.55"/><path d="M1361.6 213.0V217.5" stroke="#ff4040" stroke-width="1.55"/><rect x="1359.4" y="210.0" width="4.5" height="3.0" fill="#ff4040"/>
<path d="M1369.1 216.0V238.5" stroke="#00ffff" stroke-width="1.55"/><rect x="1366.9" y="216.0" width="4.5" height="12.0" fill="#00ffff"/>
<path d="M1376.6 214.5V225.0" stroke="#ff4040" stroke-width="1.55"/><path d="M1376.6 228.0V231.0" stroke="#ff4040" stroke-width="1.55"/><rect x="1374.4" y="225.0" width="4.5" height="3.0" fill="#ff4040"/>
<path d="M1384.1 228.0V241.5" stroke="#00ffff" stroke-width="1.55"/><rect x="1381.9" y="228.0" width="4.5" height="13.5" fill="#00ffff"/>
<path d="M1393.1 232.5V258.0" stroke="#00ffff" stroke-width="1.55"/><rect x="1390.9" y="235.5" width="4.5" height="22.5" fill="#00ffff"/>
<path d="M1400.6 253.5V256.5" stroke="#ff4040" stroke-width="1.55"/><path d="M1400.6 259.5V262.5" stroke="#ff4040" stroke-width="1.55"/><rect x="1398.4" y="256.5" width="4.5" height="3.0" fill="#ff4040"/>
<path d="M1408.1 253.5V273.0" stroke="#00ffff" stroke-width="1.55"/><rect x="1405.9" y="258.0" width="4.5" height="15.0" fill="#00ffff"/>
<path d="M1415.6 256.5V267.0" stroke="#ff4040" stroke-width="1.55"/><rect x="1414.12" y="267.8" width="3.0" height="4.5" fill="none" stroke="#ff4040" stroke-width="1.55"/>
<path d="M1424.6 274.5V279.0" stroke="#ff4040" stroke-width="1.55"/><rect x="1423.12" y="261.8" width="3.0" height="12.0" fill="none" stroke="#ff4040" stroke-width="1.55"/>
<path d="M1432.1 261.0V264.0" stroke="#ff4040" stroke-width="1.55"/><rect x="1430.62" y="246.8" width="3.0" height="13.5" fill="none" stroke="#ff4040" stroke-width="1.55"/>
<path d="M1439.6 228.0V231.0" stroke="#ff4040" stroke-width="1.55"/><path d="M1439.6 243.0V249.0" stroke="#ff4040" stroke-width="1.55"/><rect x="1438.12" y="231.8" width="3.0" height="10.5" fill="none" stroke="#ff4040" stroke-width="1.55"/>
</g>
<path d="M4.87 470.25h3M130.87 470.25h24M7.87 471.75h19.5M114.37 471.75h16.5M27.37 473.25h87M154.87 468.75h4.5M159.37 467.25h4.5M163.87 465.75h3M166.87 464.25h3M169.87 462.75h3M172.87 461.25h4.5M177.37 459.75h6M183.37 458.25h4.5M187.87 456.75h3M190.87 455.25h4.5M195.37 453.75h3M198.37 452.25h4.5M202.87 450.75h3M205.87 449.25h3M208.87 447.75h3M211.87 446.25h4.5M216.37 444.75h3M219.37 443.25h3M222.37 441.75h3M225.37 440.25h3M244.87 422.25h3M298.87 366.75h3M304.87 362.25h3M309.37 359.25h3M315.37 354.75h3M322.87 348.75h3M330.37 342.75h3M337.87 336.75h3M346.87 329.25h3M354.37 323.25h3M361.87 317.25h3M367.87 312.75h3M373.87 308.25h3M378.37 305.25h3M382.87 302.25h3M387.37 299.25h3M390.37 297.75h3M393.37 296.25h3M397.87 293.25h3M400.87 291.75h3M403.87 290.25h3M406.87 288.75h3M409.87 287.25h4.5M414.37 285.75h4.5M418.87 284.25h4.5M423.37 282.75h3M426.37 281.25h3M1200.37 281.25h55.5M1162.87 279.75h39M1255.87 279.75h7.5M1158.37 278.25h4.5M1263.37 278.25h12M1153.87 276.75h4.5M1275.37 276.75h7.5M1150.87 275.25h3M1282.87 275.25h4.5M1146.37 273.75h4.5M1287.37 273.75h4.5M1141.87 272.25h4.5M1291.87 272.25h4.5M1137.37 270.75h4.5M1296.37 270.75h4.5M1134.37 269.25h3M1300.87 269.25h4.5M1129.87 267.75h4.5M1305.37 267.75h3M1125.37 266.25h4.5M1308.37 266.25h4.5M1122.37 264.75h3M1312.87 264.75h4.5M1117.87 263.25h4.5M1317.37 263.25h3M445.87 261.75h3M1114.87 261.75h3M1320.37 261.75h4.5M1110.37 260.25h4.5M1324.87 260.25h6M1105.87 258.75h4.5M1330.87 258.75h6M1102.87 257.25h3M1336.87 257.25h6M1098.37 255.75h4.5M1342.87 255.75h9M1093.87 254.25h4.5M1351.87 254.25h10.5M1413.37 254.25h24M826.87 252.75h22.5M1090.87 252.75h3M1362.37 252.75h13.5M1389.37 252.75h24M1437.37 252.75h3M817.87 251.25h9M849.37 251.25h12M1086.37 251.25h4.5M1375.87 251.25h13.5M805.87 249.75h12M861.37 249.75h10.5M1081.87 249.75h4.5M790.87 248.25h15M871.87 248.25h6M1023.37 248.25h58.5M781.87 246.75h9M877.87 246.75h9M1017.37 246.75h6M778.87 245.25h3M886.87 245.25h13.5M1011.37 245.25h6M775.87 243.75h3M900.37 243.75h7.5M969.37 243.75h42M465.37 242.25h3M772.87 242.25h3M907.87 242.25h3M964.87 242.25h4.5M768.37 240.75h4.5M910.87 240.75h3M954.37 240.75h10.5M762.37 239.25h6M913.87 239.25h6M945.37 239.25h9M757.87 237.75h4.5M919.87 237.75h25.5M753.37 236.25h4.5M474.37 234.75h3M747.37 234.75h6M742.87 233.25h4.5M478.87 231.75h3M736.87 231.75h6M481.87 230.25h3M727.87 230.25h9M484.87 228.75h3M718.87 228.75h9M487.87 227.25h3M711.37 227.25h7.5M708.37 225.75h3M492.37 224.25h3M703.87 224.25h4.5M700.87 222.75h3M496.87 221.25h3M697.87 221.25h3M693.37 219.75h4.5M690.37 218.25h3M502.87 216.75h3M684.37 216.75h6M679.87 215.25h4.5M508.87 212.25h3M675.37 212.25h3M672.37 210.75h3M667.87 209.25h4.5M663.37 207.75h4.5M516.37 206.25h3M658.87 206.25h4.5M652.87 204.75h6M648.37 203.25h4.5M522.37 201.75h3M642.37 201.75h6M636.37 200.25h6M631.87 198.75h4.5M528.37 197.25h3M628.87 197.25h3M624.37 195.75h4.5M621.37 194.25h3M534.37 192.75h3M616.87 192.75h4.5M537.37 191.25h3M612.37 191.25h4.5M540.37 189.75h3M609.37 189.75h3M543.37 188.25h3M606.37 188.25h3M546.37 186.75h4.5M603.37 186.75h3M550.87 185.25h3M600.37 185.25h3M553.87 183.75h3M597.37 183.75h3M556.87 182.25h9M594.37 182.25h3M565.87 180.75h21M589.87 180.75h4.5M586.87 179.25h3M229.12 438.00v1.5M230.62 436.50v1.5M232.12 435.00v1.5M233.62 433.50v1.5M235.12 432.00v1.5M236.62 430.50v1.5M238.12 429.00v1.5M239.62 427.50v1.5M241.12 426.00v1.5M242.62 424.50v1.5M244.12 423.00v1.5M248.62 420.00v1.5M250.12 418.50v1.5M251.62 417.00v1.5M253.12 415.50v1.5M254.62 414.00v1.5M256.12 412.50v1.5M257.62 411.00v1.5M259.12 409.50v1.5M260.62 408.00v1.5M262.12 406.50v1.5M263.62 405.00v1.5M265.12 403.50v1.5M266.62 402.00v1.5M268.12 400.50v1.5M269.62 399.00v1.5M271.12 397.50v1.5M272.62 396.00v1.5M274.12 394.50v1.5M275.62 393.00v1.5M277.12 391.50v1.5M278.62 390.00v1.5M280.12 388.50v1.5M281.62 387.00v1.5M283.12 385.50v1.5M284.62 384.00v1.5M286.12 382.50v1.5M287.62 379.50v3M289.12 378.00v1.5M290.62 376.50v1.5M292.12 375.00v1.5M293.62 373.50v1.5M295.12 370.50v3M296.62 369.00v1.5M298.12 367.50v1.5M302.62 364.50v1.5M304.12 363.00v1.5M308.62 360.00v1.5M313.12 357.00v1.5M314.62 355.50v1.5M319.12 352.50v1.5M320.62 351.00v1.5M322.12 349.50v1.5M326.62 346.50v1.5M328.12 345.00v1.5M329.62 343.50v1.5M334.12 340.50v1.5M335.62 339.00v1.5M337.12 337.50v1.5M341.62 334.50v1.5M343.12 333.00v1.5M344.62 331.50v1.5M346.12 330.00v1.5M350.62 327.00v1.5M352.12 325.50v1.5M353.62 324.00v1.5M358.12 321.00v1.5M359.62 319.50v1.5M361.12 318.00v1.5M365.62 315.00v1.5M367.12 313.50v1.5M371.62 310.50v1.5M373.12 309.00v1.5M377.62 306.00v1.5M382.12 303.00v1.5M386.62 300.00v1.5M397.12 294.00v1.5M430.12 279.00v1.5M431.62 277.50v1.5M433.12 276.00v1.5M434.62 274.50v1.5M436.12 271.50v3M437.62 270.00v1.5M439.12 268.50v1.5M440.62 267.00v1.5M442.12 265.50v1.5M443.62 264.00v1.5M445.12 262.50v1.5M449.62 259.50v1.5M451.12 258.00v1.5M452.62 256.50v1.5M454.12 255.00v1.5M455.62 253.50v1.5M457.12 250.50v3M458.62 249.00v1.5M460.12 247.50v1.5M461.62 246.00v1.5M463.12 244.50v1.5M464.62 243.00v1.5M469.12 240.00v1.5M470.62 238.50v1.5M472.12 237.00v1.5M473.62 235.50v1.5M478.12 232.50v1.5M491.62 225.00v1.5M496.12 222.00v1.5M500.62 219.00v1.5M502.12 217.50v1.5M506.62 214.50v1.5M508.12 213.00v1.5M512.62 210.00v1.5M514.12 208.50v1.5M515.62 207.00v1.5M520.12 204.00v1.5M521.62 202.50v1.5M526.12 199.50v1.5M527.62 198.00v1.5M532.12 195.00v1.5M533.62 193.50v1.5M679.12 213.00v1.5" fill="none" stroke="#ffff00" stroke-width="1.6" />
<path d="M7.87 506.25h9M16.87 504.75h4.5M21.37 503.25h4.5M25.87 501.75h7.5M33.37 500.25h6M39.37 498.75h4.5M43.87 497.25h4.5M48.37 495.75h3M51.37 494.25h6M57.37 492.75h6M63.37 491.25h3M69.37 486.75h3M75.37 482.25h3M78.37 480.75h10.5M88.87 479.25h3M91.87 477.75h6M97.87 476.25h6M103.87 474.75h3M106.87 473.25h7.5M114.37 471.75h16.5M130.87 470.25h12M142.87 468.75h3M145.87 467.25h3M148.87 465.75h3M156.37 459.75h3M180.37 432.75h3M183.37 431.25h3M207.37 405.75h3M210.37 404.25h3M1155.37 320.25h16.5M1152.37 318.75h3M1171.87 318.75h3M1149.37 317.25h3M1174.87 317.25h3M1144.87 315.75h4.5M1177.87 315.75h3M1141.87 314.25h3M1180.87 314.25h3M1138.87 312.75h3M1183.87 312.75h4.5M1135.87 311.25h3M1188.37 311.25h3M1132.87 309.75h3M1191.37 309.75h4.5M1195.87 308.25h3M1128.37 306.75h3M1198.87 306.75h3M1201.87 305.25h3M1204.87 303.75h3M1207.87 302.25h3M1120.87 300.75h3M1210.87 300.75h3M1213.87 299.25h4.5M1218.37 297.75h6M1224.37 296.25h6M1230.37 294.75h4.5M1234.87 293.25h4.5M1239.37 291.75h6M783.37 290.25h3M1245.37 290.25h6M780.37 288.75h3M786.37 288.75h3M1251.37 288.75h4.5M789.37 287.25h3M1255.87 287.25h3M775.87 285.75h3M792.37 285.75h3M795.37 284.25h4.5M1260.37 284.25h3M771.37 282.75h3M799.87 282.75h6M813.37 282.75h22.5M768.37 281.25h3M805.87 281.25h7.5M835.87 281.25h3M1264.87 281.25h3M763.87 279.75h4.5M838.87 279.75h3M760.87 278.25h3M1269.37 278.25h3M756.37 276.75h4.5M753.37 275.25h3M750.37 273.75h3M1275.37 273.75h3M711.37 272.25h39M708.37 270.75h3M705.37 269.25h3M702.37 267.75h3M699.37 266.25h3M693.37 261.75h3M1027.87 260.25h22.5M1024.87 258.75h3M1050.37 258.75h7.5M687.37 257.25h3M1021.87 257.25h3M1057.87 257.25h6M1083.37 257.25h3M684.37 255.75h3M861.37 255.75h3M1018.87 255.75h3M1063.87 255.75h19.5M681.37 254.25h3M864.37 254.25h3M1014.37 254.25h4.5M678.37 252.75h3M867.37 252.75h3M1009.87 252.75h4.5M675.37 251.25h3M870.37 251.25h3M1005.37 251.25h4.5M873.37 249.75h3M1002.37 249.75h3M876.37 248.25h3M999.37 248.25h3M1420.87 248.25h15M879.37 246.75h3M994.87 246.75h4.5M1416.37 246.75h4.5M1435.87 246.75h3M882.37 245.25h3M988.87 245.25h6M1413.37 245.25h3M885.37 243.75h3M978.37 243.75h10.5M888.37 242.25h3M969.37 242.25h9M891.37 240.75h6M966.37 240.75h3M295.87 239.25h3M961.87 239.25h4.5M1309.87 239.25h3M298.87 237.75h3M958.87 237.75h3M1404.37 237.75h3M301.87 236.25h3M1401.37 236.25h3M304.87 234.75h3M657.37 234.75h3M1315.87 234.75h3M1398.37 234.75h3M307.87 233.25h3M651.37 233.25h6M952.87 233.25h3M1395.37 233.25h3M310.87 231.75h3M646.87 231.75h4.5M1321.87 230.25h3M1390.87 230.25h3M1387.87 228.75h3M945.37 227.25h3M1326.37 227.25h4.5M1336.87 227.25h6M1384.87 227.25h3M909.37 225.75h3M1330.87 225.75h6M1342.87 225.75h6M1380.37 225.75h4.5M912.37 224.25h4.5M1348.87 224.25h6M1372.87 224.25h7.5M319.87 222.75h3M916.87 222.75h4.5M1354.87 222.75h18M322.87 221.25h3M921.37 221.25h6M937.87 221.25h3M325.87 219.75h13.5M927.37 219.75h6M339.37 218.25h3M933.37 218.25h3M342.37 216.75h3M361.87 197.25h3M411.37 194.25h4.5M367.87 192.75h3M408.37 192.75h3M415.87 192.75h3M370.87 191.25h3M405.37 191.25h3M418.87 191.25h3M402.37 189.75h3M375.37 188.25h3M399.37 188.25h3M394.87 185.25h3M381.37 183.75h3M388.87 183.75h6M384.37 182.25h4.5M477.37 111.75h4.5M481.87 110.25h6M487.87 108.75h15M514.87 95.25h3M517.87 93.75h3M522.37 90.75h3M526.87 87.75h3M555.37 86.25h4.5M531.37 84.75h3M546.37 84.75h9M534.37 83.25h12M67.12 489.00v1.5M68.62 487.50v1.5M73.12 484.50v1.5M74.62 483.00v1.5M152.62 463.50v1.5M154.12 462.00v1.5M155.62 460.50v1.5M160.12 457.50v1.5M161.62 456.00v1.5M163.12 453.00v3M164.62 450.00v3M166.12 447.00v3M167.62 445.50v1.5M169.12 444.00v1.5M170.62 442.50v1.5M172.12 441.00v1.5M173.62 439.50v1.5M175.12 438.00v1.5M176.62 436.50v1.5M178.12 435.00v1.5M179.62 433.50v1.5M187.12 429.00v1.5M188.62 427.50v1.5M190.12 424.50v3M191.62 423.00v1.5M193.12 421.50v1.5M194.62 418.50v3M196.12 417.00v1.5M197.62 415.50v1.5M199.12 414.00v1.5M200.62 412.50v1.5M202.12 411.00v1.5M203.62 409.50v1.5M205.12 408.00v1.5M206.62 406.50v1.5M214.12 402.00v1.5M215.62 400.50v1.5M217.12 397.50v3M218.62 396.00v1.5M220.12 394.50v1.5M221.62 393.00v1.5M223.12 390.00v3M224.62 388.50v1.5M226.12 385.50v3M227.62 382.50v3M229.12 379.50v3M230.62 376.50v3M232.12 369.00v7.5M233.62 361.50v7.5M235.12 358.50v3M236.62 355.50v3M238.12 352.50v3M239.62 349.50v3M241.12 346.50v3M242.62 343.50v3M244.12 340.50v3M245.62 337.50v3M247.12 334.50v3M248.62 333.00v1.5M250.12 330.00v3M251.62 328.50v1.5M253.12 325.50v3M254.62 324.00v1.5M256.12 321.00v3M257.62 318.00v3M259.12 315.00v3M260.62 312.00v3M262.12 309.00v3M263.62 304.50v4.5M265.12 301.50v3M266.62 298.50v3M268.12 295.50v3M269.62 292.50v3M271.12 289.50v3M272.62 286.50v3M274.12 283.50v3M275.62 279.00v4.5M277.12 274.50v4.5M278.62 271.50v3M280.12 267.00v4.5M281.62 264.00v3M283.12 261.00v3M284.62 258.00v3M286.12 255.00v3M287.62 252.00v3M289.12 249.00v3M290.62 246.00v3M292.12 243.00v3M293.62 241.50v1.5M295.12 240.00v1.5M314.62 229.50v1.5M316.12 228.00v1.5M317.62 225.00v3M319.12 223.50v1.5M346.12 214.50v1.5M347.62 211.50v3M349.12 210.00v1.5M350.62 208.50v1.5M352.12 207.00v1.5M353.62 205.50v1.5M355.12 204.00v1.5M356.62 202.50v1.5M358.12 201.00v1.5M359.62 199.50v1.5M361.12 198.00v1.5M365.62 195.00v1.5M367.12 193.50v1.5M374.62 189.00v1.5M379.12 186.00v1.5M380.62 184.50v1.5M398.62 186.00v1.5M422.62 187.50v3M424.12 186.00v1.5M425.62 184.50v1.5M427.12 181.50v3M428.62 178.50v3M430.12 177.00v1.5M431.62 174.00v3M433.12 172.50v1.5M434.62 171.00v1.5M436.12 169.50v1.5M437.62 168.00v1.5M439.12 166.50v1.5M440.62 163.50v3M442.12 160.50v3M443.62 157.50v3M445.12 154.50v3M446.62 151.50v3M448.12 148.50v3M449.62 147.00v1.5M451.12 144.00v3M452.62 142.50v1.5M454.12 139.50v3M455.62 138.00v1.5M457.12 135.00v3M458.62 133.50v1.5M460.12 130.50v3M461.62 129.00v1.5M463.12 127.50v1.5M464.62 124.50v3M466.12 123.00v1.5M467.62 121.50v1.5M469.12 120.00v1.5M470.62 118.50v1.5M472.12 117.00v1.5M473.62 115.50v1.5M475.12 114.00v1.5M476.62 112.50v1.5M503.62 106.50v1.5M505.12 105.00v1.5M506.62 103.50v1.5M508.12 102.00v1.5M509.62 100.50v1.5M511.12 99.00v1.5M512.62 97.50v1.5M514.12 96.00v1.5M521.62 91.50v1.5M526.12 88.50v1.5M530.62 85.50v1.5M560.62 87.00v3M562.12 90.00v1.5M563.62 91.50v3M565.12 94.50v1.5M566.62 96.00v3M568.12 99.00v1.5M569.62 100.50v3M571.12 103.50v1.5M572.62 105.00v1.5M574.12 106.50v3M575.62 109.50v1.5M577.12 111.00v1.5M578.62 112.50v1.5M580.12 114.00v1.5M581.62 115.50v1.5M583.12 117.00v1.5M584.62 118.50v1.5M586.12 120.00v1.5M587.62 121.50v1.5M589.12 123.00v3M590.62 126.00v3M592.12 129.00v3M593.62 132.00v4.5M595.12 136.50v4.5M596.62 141.00v3M598.12 144.00v4.5M599.62 148.50v4.5M601.12 153.00v3M602.62 156.00v4.5M604.12 160.50v4.5M605.62 165.00v3M607.12 168.00v4.5M608.62 172.50v3M610.12 175.50v3M611.62 178.50v3M613.12 181.50v3M614.62 184.50v4.5M616.12 189.00v3M617.62 192.00v4.5M619.12 196.50v3M620.62 199.50v3M622.12 202.50v1.5M623.62 204.00v3M625.12 207.00v1.5M626.62 208.50v1.5M628.12 210.00v1.5M629.62 211.50v1.5M631.12 213.00v1.5M632.62 214.50v1.5M634.12 216.00v1.5M635.62 217.50v3M637.12 220.50v1.5M638.62 222.00v1.5M640.12 223.50v1.5M641.62 225.00v1.5M643.12 226.50v1.5M644.62 228.00v1.5M646.12 229.50v1.5M661.12 235.50v1.5M662.62 237.00v1.5M664.12 238.50v1.5M665.62 240.00v1.5M667.12 241.50v1.5M668.62 243.00v1.5M670.12 244.50v1.5M671.62 246.00v1.5M673.12 247.50v1.5M674.62 249.00v1.5M691.12 258.00v1.5M692.62 259.50v1.5M697.12 262.50v1.5M698.62 264.00v1.5M775.12 283.50v1.5M779.62 286.50v1.5M842.62 277.50v1.5M844.12 274.50v3M845.62 273.00v1.5M847.12 271.50v1.5M848.62 268.50v3M850.12 267.00v1.5M851.62 265.50v1.5M853.12 264.00v1.5M854.62 262.50v1.5M856.12 261.00v1.5M857.62 259.50v1.5M859.12 258.00v1.5M860.62 256.50v1.5M898.12 238.50v1.5M899.62 235.50v3M901.12 234.00v1.5M902.62 232.50v1.5M904.12 231.00v1.5M905.62 229.50v1.5M907.12 228.00v1.5M908.62 226.50v1.5M937.12 219.00v1.5M941.62 222.00v1.5M943.12 223.50v1.5M944.62 225.00v1.5M949.12 228.00v1.5M950.62 229.50v1.5M952.12 231.00v1.5M956.62 234.00v1.5M958.12 235.50v1.5M1087.12 258.00v1.5M1088.62 259.50v1.5M1090.12 261.00v1.5M1091.62 262.50v1.5M1093.12 264.00v1.5M1094.62 265.50v1.5M1096.12 267.00v1.5M1097.62 268.50v3M1099.12 271.50v1.5M1100.62 273.00v1.5M1102.12 274.50v1.5M1103.62 276.00v3M1105.12 279.00v1.5M1106.62 280.50v1.5M1108.12 282.00v3M1109.62 285.00v1.5M1111.12 286.50v1.5M1112.62 288.00v3M1114.12 291.00v1.5M1115.62 292.50v1.5M1117.12 294.00v3M1118.62 297.00v1.5M1120.12 298.50v1.5M1124.62 301.50v1.5M1126.12 303.00v1.5M1127.62 304.50v1.5M1132.12 307.50v1.5M1259.62 285.00v1.5M1264.12 282.00v1.5M1268.62 279.00v1.5M1273.12 276.00v1.5M1274.62 274.50v1.5M1279.12 271.50v1.5M1280.62 270.00v1.5M1282.12 268.50v1.5M1283.62 267.00v1.5M1285.12 265.50v1.5M1286.62 262.50v3M1288.12 261.00v1.5M1289.62 259.50v1.5M1291.12 258.00v1.5M1292.62 256.50v1.5M1294.12 255.00v1.5M1295.62 253.50v1.5M1297.12 252.00v1.5M1298.62 250.50v1.5M1300.12 249.00v1.5M1301.62 247.50v1.5M1303.12 246.00v1.5M1304.62 244.50v1.5M1306.12 243.00v1.5M1307.62 241.50v1.5M1309.12 240.00v1.5M1313.62 237.00v1.5M1315.12 235.50v1.5M1319.62 232.50v1.5M1321.12 231.00v1.5M1325.62 228.00v1.5M1394.62 231.00v1.5M1408.12 238.50v1.5M1409.62 240.00v1.5M1411.12 241.50v1.5M1412.62 243.00v1.5M1439.62 244.50v1.5" fill="none" stroke="#ffffff" stroke-width="1.6" />
<g clip-path="url(#cm)">
<path d="M20.4 469.1H25.2V476.0H29.5v1.5L22.8 484.2L16.1 477.5v-1.5H20.4Z" fill="none" stroke="#00ff00" stroke-width="1.5" stroke-linejoin="miter"/>
<path d="M35.6 466.4H40.4V473.3H44.7v1.5L38.0 481.5L31.3 474.8v-1.5H35.6Z" fill="none" stroke="#00ff00" stroke-width="1.5" stroke-linejoin="miter"/>
<path d="M59.6 449.6H64.4V456.6H68.7v1.5L62.0 464.8L55.3 458.1v-1.5H59.6Z" fill="none" stroke="#00ff00" stroke-width="1.5" stroke-linejoin="miter"/>
<path d="M83.6 433.1H88.4V440.1H92.7v1.5L86.0 448.3L79.3 441.6v-1.5H83.6Z" fill="none" stroke="#00ff00" stroke-width="1.5" stroke-linejoin="miter"/>
<path d="M122.4 439.6H127.2V446.5H131.5v1.5L124.8 454.7L118.1 448.0v-1.5H122.4Z" fill="none" stroke="#00ff00" stroke-width="1.5" stroke-linejoin="miter"/>
<path d="M304.0 150.8H308.8V158.0H313.1v1.5L306.4 166.2L299.7 159.5v-1.5H304.0Z" fill="none" stroke="#00ff00" stroke-width="1.5" stroke-linejoin="miter"/>
<path d="M366.7 132.8H371.5V140.5H375.8v1.5L369.1 148.7L362.4 142.0v-1.5H366.7Z" fill="none" stroke="#00ff00" stroke-width="1.5" stroke-linejoin="miter"/>
<path d="M382.2 131.2H387.0V138.9H391.3v1.5L384.6 147.1L377.9 140.4v-1.5H382.2Z" fill="none" stroke="#00ff00" stroke-width="1.5" stroke-linejoin="miter"/>
<path d="M476.3 36.0H481.1V43.1H485.4v1.5L478.7 51.3L472.0 44.6v-1.5H476.3Z" fill="none" stroke="#00ff00" stroke-width="1.5" stroke-linejoin="miter"/>
<path d="M871.0 193.3H875.8V200.5H880.1v1.5L873.4 208.7L866.7 202.0v-1.5H871.0Z" fill="none" stroke="#00ff00" stroke-width="1.5" stroke-linejoin="miter"/>
<path d="M917.3 176.3H922.1V183.3H926.4v1.5L919.7 191.5L913.0 184.8v-1.5H917.3Z" fill="none" stroke="#00ff00" stroke-width="1.5" stroke-linejoin="miter"/>
<path d="M1075.2 230.6H1080.0V237.5H1084.3v1.5L1077.6 245.7L1070.9 239.0v-1.5H1075.2Z" fill="none" stroke="#00ff00" stroke-width="1.5" stroke-linejoin="miter"/>
<path d="M1234.0 253.3H1238.8V260.3H1243.1v1.5L1236.4 268.5L1229.7 261.8v-1.5H1234.0Z" fill="none" stroke="#00ff00" stroke-width="1.5" stroke-linejoin="miter"/>
<path d="M1319.6 174.9H1324.4V181.6H1328.7v1.5L1322.0 189.8L1315.3 183.1v-1.5H1319.6Z" fill="none" stroke="#00ff00" stroke-width="1.5" stroke-linejoin="miter"/>
</g>
<path d="M1272.3 159.1H1278.5V168.4H1282.9v1.5L1275.4 176.6L1267.9 169.9v-1.5H1272.3Z" fill="#00ff00"/>
<path d="M187.9 442.8L195.5 450.1V451.6H191.0V458.9H184.8V451.6H180.3V450.1Z" fill="#ff0000"/>
<path d="M565.9 175.4L573.5 182.7V184.2H569.0V192.0H562.8V184.2H558.3V182.7Z" fill="#ff0000"/>
<path d="M628.6 316.3L636.2 323.6V325.1H631.7V333.1H625.5V325.1H621.0V323.6Z" fill="#ff0000"/>
<path d="M715.6 319.4L723.2 326.7V328.2H718.7V336.0H712.5V328.2H708.0V326.7Z" fill="#ff0000"/>
<path d="M794.4 306.4L802.0 313.7V315.2H797.5V322.6H791.3V315.2H786.8V313.7Z" fill="#ff0000"/>
<path d="M975.6 274.5L983.2 281.8V283.3H978.7V291.3H972.5V283.3H968.0V281.8Z" fill="#ff0000"/>
<path d="M1038.7 273.2L1046.3 280.5V282.0H1041.8V289.5H1035.6V282.0H1031.1V280.5Z" fill="#ff0000"/>
<path d="M1133.0 357.3L1140.6 364.6V366.1H1136.1V373.5H1129.9V366.1H1125.4V364.6Z" fill="#ff0000"/>
<path d="M1432.9 267.0L1440.5 274.3V275.8H1436.0V283.1H1429.8V275.8H1425.3V274.3Z" fill="#ff0000"/>
<path d="M198.5 14.0L206.1 21.3V22.8H201.6V29.6H195.4V22.8H190.9V21.3Z" fill="#ff0000"/>
<path d="M1217.5 275.8H1222.3V282.7H1226.6v1.5L1219.9 290.9L1213.2 284.2v-1.5H1217.5Z" fill="none" stroke="#00ff00" stroke-width="1.5" stroke-linejoin="miter"/>
<g stroke="#ffff00" stroke-width="1.6">
<line x1="2" y1="189.8" x2="1467.6" y2="189.8"/>
<line x1="2" y1="242.3" x2="1467.6" y2="242.3"/>
<line x1="2" y1="288.8" x2="1467.6" y2="288.8"/>
<line x1="2" y1="326.3" x2="1467.6" y2="326.3"/>
<line x1="2" y1="401.5" x2="1467.6" y2="401.5"/>
</g>
<path d="M1.87 77.25h3M4.87 78.75h4.5M9.37 80.25h3M12.37 81.75h4.5M16.87 83.25h4.5M21.37 84.75h3M24.37 86.25h4.5M28.87 87.75h4.5M33.37 89.25h4.5M37.87 90.75h3M40.87 92.25h4.5M45.37 93.75h4.5M49.87 95.25h3M52.87 96.75h4.5M57.37 98.25h4.5M61.87 99.75h4.5M66.37 101.25h3M69.37 102.75h4.5M73.87 104.25h4.5M78.37 105.75h3M81.37 107.25h4.5M85.87 108.75h4.5M90.37 110.25h3M93.37 111.75h4.5M97.87 113.25h4.5M102.37 114.75h4.5M106.87 116.25h3M109.87 117.75h4.5M114.37 119.25h4.5M118.87 120.75h3M121.87 122.25h4.5M126.37 123.75h4.5M130.87 125.25h4.5M135.37 126.75h3M138.37 128.25h4.5M142.87 129.75h4.5M147.37 131.25h3M150.37 132.75h4.5M154.87 134.25h4.5M159.37 135.75h4.5M163.87 137.25h3M166.87 138.75h4.5M171.37 140.25h4.5M175.87 141.75h3M178.87 143.25h4.5M183.37 144.75h4.5M187.87 146.25h4.5M192.37 147.75h3M195.37 149.25h4.5M199.87 150.75h4.5M204.37 152.25h3M207.37 153.75h4.5M211.87 155.25h4.5M216.37 156.75h4.5M220.87 158.25h3M223.87 159.75h4.5M228.37 161.25h4.5M232.87 162.75h3M235.87 164.25h4.5M240.37 165.75h4.5M244.87 167.25h4.5M249.37 168.75h3M252.37 170.25h4.5M256.87 171.75h4.5M261.37 173.25h3M264.37 174.75h4.5M268.87 176.25h4.5M273.37 177.75h3M276.37 179.25h4.5M280.87 180.75h4.5M285.37 182.25h4.5M289.87 183.75h3M292.87 185.25h4.5M297.37 186.75h4.5M301.87 188.25h3M304.87 189.75h4.5M309.37 191.25h4.5M313.87 192.75h4.5M318.37 194.25h3M321.37 195.75h4.5M325.87 197.25h4.5M330.37 198.75h3M333.37 200.25h4.5M337.87 201.75h4.5M342.37 203.25h4.5M346.87 204.75h3M349.87 206.25h4.5M354.37 207.75h4.5M358.87 209.25h3M361.87 210.75h4.5M366.37 212.25h4.5M370.87 213.75h4.5M375.37 215.25h3M378.37 216.75h4.5M382.87 218.25h4.5M387.37 219.75h3M390.37 221.25h4.5M394.87 222.75h4.5M399.37 224.25h4.5M403.87 225.75h3M406.87 227.25h4.5M411.37 228.75h4.5M415.87 230.25h3M418.87 231.75h4.5M423.37 233.25h4.5M427.87 234.75h3M430.87 236.25h4.5M435.37 237.75h4.5M439.87 239.25h4.5M444.37 240.75h3M447.37 242.25h4.5M451.87 243.75h4.5M456.37 245.25h3M459.37 246.75h4.5M463.87 248.25h4.5M468.37 249.75h4.5M472.87 251.25h3M475.87 252.75h4.5M480.37 254.25h4.5M484.87 255.75h3M487.87 257.25h4.5M492.37 258.75h4.5M496.87 260.25h4.5M501.37 261.75h3M504.37 263.25h4.5M508.87 264.75h4.5M513.37 266.25h3M516.37 267.75h4.5M520.87 269.25h4.5M525.37 270.75h4.5M529.87 272.25h3M532.87 273.75h4.5M537.37 275.25h4.5M541.87 276.75h3M544.87 278.25h4.5M549.37 279.75h4.5M553.87 281.25h4.5M558.37 282.75h3M561.37 284.25h4.5M565.87 285.75h4.5M570.37 287.25h3M573.37 288.75h4.5M577.87 290.25h4.5M582.37 291.75h4.5M586.87 293.25h3M589.87 294.75h4.5M594.37 296.25h4.5M598.87 297.75h3M601.87 299.25h4.5M606.37 300.75h4.5M610.87 302.25h3M613.87 303.75h4.5M618.37 305.25h4.5M622.87 306.75h4.5M627.37 308.25h3M630.37 309.75h4.5M634.87 311.25h4.5M639.37 312.75h3M642.37 314.25h4.5M646.87 315.75h4.5M651.37 317.25h4.5M655.87 318.75h3M658.87 320.25h4.5M663.37 321.75h4.5M667.87 323.25h3M670.87 324.75h4.5M675.37 326.25h4.5M679.87 327.75h4.5M684.37 329.25h3M687.37 330.75h4.5M691.87 332.25h4.5M696.37 333.75h3M699.37 335.25h4.5M703.87 336.75h4.5M708.37 338.25h4.5M712.87 339.75h3M715.87 341.25h4.5M720.37 342.75h4.5M724.87 344.25h3M727.87 345.75h4.5M732.37 347.25h4.5M736.87 348.75h4.5M741.37 350.25h3M744.37 351.75h4.5M748.87 353.25h4.5M753.37 354.75h3M756.37 356.25h4.5M760.87 357.75h4.5M765.37 359.25h4.5M769.87 360.75h3M772.87 362.25h4.5M777.37 363.75h4.5M781.87 365.25h3M784.87 366.75h4.5M789.37 368.25h4.5M793.87 369.75h3M796.87 371.25h4.5M801.37 372.75h4.5M805.87 374.25h4.5M810.37 375.75h3M813.37 377.25h4.5M817.87 378.75h4.5M822.37 380.25h3M825.37 381.75h4.5M829.87 383.25h4.5M834.37 384.75h4.5M838.87 386.25h3M841.87 387.75h4.5M846.37 389.25h4.5M850.87 390.75h3M853.87 392.25h4.5M858.37 393.75h4.5M862.87 395.25h4.5M867.37 396.75h3M870.37 398.25h4.5M874.87 399.75h4.5M879.37 401.25h3M882.37 402.75h4.5M886.87 404.25h4.5M891.37 405.75h4.5M895.87 407.25h3M898.87 408.75h4.5M903.37 410.25h4.5M907.87 411.75h3M910.87 413.25h4.5M915.37 414.75h4.5M919.87 416.25h4.5M924.37 417.75h3M927.37 419.25h4.5M931.87 420.75h4.5M936.37 422.25h3M939.37 423.75h4.5M943.87 425.25h4.5M948.37 426.75h3M951.37 428.25h4.5M955.87 429.75h4.5M960.37 431.25h4.5M964.87 432.75h3M967.87 434.25h4.5M972.37 435.75h4.5M976.87 437.25h3M979.87 438.75h4.5M984.37 440.25h4.5M988.87 441.75h4.5M993.37 443.25h3M996.37 444.75h4.5M1000.87 446.25h4.5M1005.37 447.75h3M1008.37 449.25h4.5M1012.87 450.75h4.5M1017.37 452.25h4.5M1021.87 453.75h3M1024.87 455.25h4.5M1029.37 456.75h4.5M1033.87 458.25h3M1036.87 459.75h4.5M1041.37 461.25h4.5M1045.87 462.75h4.5M1050.37 464.25h3M1053.37 465.75h4.5M1057.87 467.25h4.5M1062.37 468.75h3M1065.37 470.25h4.5M1069.87 471.75h4.5M1074.37 473.25h4.5M1078.87 474.75h3M1081.87 476.25h4.5M1086.37 477.75h4.5M1090.87 479.25h3M1093.87 480.75h4.5M1098.37 482.25h4.5M1102.87 483.75h4.5M1107.37 485.25h3M1110.37 486.75h4.5M1114.87 488.25h4.5M1119.37 489.75h3M1122.37 491.25h4.5M1126.87 492.75h4.5M1131.37 494.25h3M1134.37 495.75h4.5M1138.87 497.25h4.5M1143.37 498.75h4.5M1147.87 500.25h3M1150.87 501.75h4.5M1155.37 503.25h4.5M1159.87 504.75h3M1162.87 506.25h4.5M1167.37 507.75h4.5M1171.87 509.25h4.5M1176.37 510.75h3M1179.37 512.25h4.5M1183.87 513.75h4.5M1188.37 515.25h3M1191.37 516.75h4.5M1195.87 518.25h3" fill="none" stroke="#ffff00" stroke-width="1.6" />
<path d="M502.87 36.75h3M505.87 38.25h4.5M510.37 39.75h3M513.37 41.25h4.5M517.87 42.75h4.5M522.37 44.25h3M525.37 45.75h4.5M529.87 47.25h4.5M534.37 48.75h4.5M538.87 50.25h3M541.87 51.75h4.5M546.37 53.25h4.5M550.87 54.75h3M553.87 56.25h4.5M558.37 57.75h4.5M562.87 59.25h3M565.87 60.75h4.5M570.37 62.25h4.5M574.87 63.75h4.5M579.37 65.25h3M582.37 66.75h4.5M586.87 68.25h4.5M591.37 69.75h3M594.37 71.25h4.5M598.87 72.75h4.5M603.37 74.25h4.5M607.87 75.75h3M610.87 77.25h4.5M615.37 78.75h4.5M619.87 80.25h3M622.87 81.75h4.5M627.37 83.25h4.5M631.87 84.75h4.5M636.37 86.25h3M639.37 87.75h4.5M643.87 89.25h4.5M648.37 90.75h3M651.37 92.25h4.5M655.87 93.75h4.5M660.37 95.25h4.5M664.87 96.75h3M667.87 98.25h4.5M672.37 99.75h4.5M676.87 101.25h3M679.87 102.75h4.5M684.37 104.25h4.5M688.87 105.75h3M691.87 107.25h4.5M696.37 108.75h4.5M700.87 110.25h4.5M705.37 111.75h3M708.37 113.25h4.5M712.87 114.75h4.5M717.37 116.25h3M720.37 117.75h4.5M724.87 119.25h4.5M729.37 120.75h4.5M733.87 122.25h3M736.87 123.75h4.5M741.37 125.25h4.5M745.87 126.75h3M748.87 128.25h4.5M753.37 129.75h4.5M757.87 131.25h4.5M762.37 132.75h3M765.37 134.25h4.5M769.87 135.75h4.5M774.37 137.25h3M777.37 138.75h4.5M781.87 140.25h4.5M786.37 141.75h3M789.37 143.25h4.5M793.87 144.75h4.5M798.37 146.25h4.5M802.87 147.75h3M805.87 149.25h4.5M810.37 150.75h4.5M814.87 152.25h3M817.87 153.75h4.5M822.37 155.25h4.5M826.87 156.75h4.5M831.37 158.25h3M834.37 159.75h4.5M838.87 161.25h4.5M843.37 162.75h3M846.37 164.25h4.5M850.87 165.75h4.5M855.37 167.25h4.5M859.87 168.75h3M862.87 170.25h4.5M867.37 171.75h4.5M871.87 173.25h3M874.87 174.75h4.5M879.37 176.25h4.5M883.87 177.75h3M886.87 179.25h4.5M891.37 180.75h4.5M895.87 182.25h4.5M900.37 183.75h3M903.37 185.25h4.5M907.87 186.75h4.5M912.37 188.25h3M915.37 189.75h4.5M919.87 191.25h4.5M924.37 192.75h4.5M928.87 194.25h3M931.87 195.75h4.5M936.37 197.25h4.5M940.87 198.75h3M943.87 200.25h4.5M948.37 201.75h4.5M952.87 203.25h4.5M957.37 204.75h3M960.37 206.25h4.5M964.87 207.75h4.5M969.37 209.25h3M972.37 210.75h4.5M976.87 212.25h4.5M981.37 213.75h4.5M985.87 215.25h3M988.87 216.75h4.5M993.37 218.25h4.5M997.87 219.75h3M1000.87 221.25h4.5M1005.37 222.75h4.5M1009.87 224.25h3M1012.87 225.75h4.5M1017.37 227.25h4.5M1021.87 228.75h4.5M1026.37 230.25h3M1029.37 231.75h4.5M1033.87 233.25h4.5M1038.37 234.75h3M1041.37 236.25h4.5M1045.87 237.75h4.5M1050.37 239.25h4.5M1054.87 240.75h3M1057.87 242.25h4.5M1062.37 243.75h4.5M1066.87 245.25h3M1069.87 246.75h4.5M1074.37 248.25h4.5M1078.87 249.75h4.5M1083.37 251.25h3M1086.37 252.75h4.5M1090.87 254.25h4.5M1095.37 255.75h3M1098.37 257.25h4.5M1102.87 258.75h4.5M1107.37 260.25h3M1110.37 261.75h4.5M1114.87 263.25h4.5M1119.37 264.75h4.5M1123.87 266.25h3M1126.87 267.75h4.5M1131.37 269.25h4.5M1135.87 270.75h3M1138.87 272.25h4.5M1143.37 273.75h4.5M1147.87 275.25h4.5M1152.37 276.75h3M1155.37 278.25h4.5M1159.87 279.75h4.5M1164.37 281.25h3M1167.37 282.75h4.5M1171.87 284.25h4.5M1176.37 285.75h4.5M1180.87 287.25h3M1183.87 288.75h4.5M1188.37 290.25h4.5M1192.87 291.75h3M1195.87 293.25h4.5M1200.37 294.75h4.5M1204.87 296.25h3M1207.87 297.75h4.5M1212.37 299.25h4.5M1216.87 300.75h4.5M1221.37 302.25h3M1224.37 303.75h4.5M1228.87 305.25h4.5M1233.37 306.75h3M1236.37 308.25h4.5M1240.87 309.75h4.5M1245.37 311.25h4.5M1249.87 312.75h3M1252.87 314.25h4.5M1257.37 315.75h4.5M1261.87 317.25h3M1264.87 318.75h4.5M1269.37 320.25h4.5M1273.87 321.75h4.5M1278.37 323.25h3M1281.37 324.75h4.5M1285.87 326.25h4.5M1290.37 327.75h3M1293.37 329.25h4.5M1297.87 330.75h4.5M1302.37 332.25h4.5M1306.87 333.75h3M1309.87 335.25h4.5M1314.37 336.75h4.5M1318.87 338.25h3M1321.87 339.75h4.5M1326.37 341.25h4.5M1330.87 342.75h3M1333.87 344.25h4.5M1338.37 345.75h4.5M1342.87 347.25h4.5M1347.37 348.75h3M1350.37 350.25h4.5M1354.87 351.75h4.5M1359.37 353.25h3M1362.37 354.75h4.5M1366.87 356.25h4.5M1371.37 357.75h4.5M1375.87 359.25h3M1378.87 360.75h4.5M1383.37 362.25h4.5M1387.87 363.75h3M1390.87 365.25h4.5M1395.37 366.75h4.5M1399.87 368.25h4.5M1404.37 369.75h3M1407.37 371.25h4.5M1411.87 372.75h4.5M1416.37 374.25h3M1419.37 375.75h4.5M1423.87 377.25h4.5M1428.37 378.75h3M1431.37 380.25h4.5M1435.87 381.75h4.5M1440.37 383.25h4.5M1444.87 384.75h3M1447.87 386.25h4.5M1452.37 387.75h4.5M1456.87 389.25h3M1459.87 390.75h4.5M1464.37 392.25h3" fill="none" stroke="#ffff00" stroke-width="1.6" />
<path d="M1117.87 36.75h3M1120.87 38.25h4.5M1125.37 39.75h3M1128.37 41.25h4.5M1132.87 42.75h4.5M1137.37 44.25h3M1140.37 45.75h4.5M1144.87 47.25h4.5M1149.37 48.75h3M1152.37 50.25h4.5M1156.87 51.75h4.5M1161.37 53.25h4.5M1165.87 54.75h3M1168.87 56.25h4.5M1173.37 57.75h4.5M1177.87 59.25h3M1180.87 60.75h4.5M1185.37 62.25h4.5M1189.87 63.75h3M1192.87 65.25h4.5M1197.37 66.75h4.5M1201.87 68.25h4.5M1206.37 69.75h3M1209.37 71.25h4.5M1213.87 72.75h4.5M1218.37 74.25h3M1221.37 75.75h4.5M1225.87 77.25h4.5M1230.37 78.75h3M1233.37 80.25h4.5M1237.87 81.75h4.5M1242.37 83.25h3M1245.37 84.75h4.5M1249.87 86.25h4.5M1254.37 87.75h4.5M1258.87 89.25h3M1261.87 90.75h4.5M1266.37 92.25h4.5M1270.87 93.75h3M1273.87 95.25h4.5M1278.37 96.75h4.5M1282.87 98.25h3M1285.87 99.75h4.5M1290.37 101.25h4.5M1294.87 102.75h4.5M1299.37 104.25h3M1302.37 105.75h4.5M1306.87 107.25h4.5M1311.37 108.75h3M1314.37 110.25h4.5M1318.87 111.75h4.5M1323.37 113.25h3M1326.37 114.75h4.5M1330.87 116.25h4.5M1335.37 117.75h4.5M1339.87 119.25h3M1342.87 120.75h4.5M1347.37 122.25h4.5M1351.87 123.75h3M1354.87 125.25h4.5M1359.37 126.75h4.5M1363.87 128.25h3M1366.87 129.75h4.5M1371.37 131.25h4.5M1375.87 132.75h4.5M1380.37 134.25h3M1383.37 135.75h4.5M1387.87 137.25h4.5M1392.37 138.75h3M1395.37 140.25h4.5M1399.87 141.75h4.5M1404.37 143.25h3M1407.37 144.75h4.5M1411.87 146.25h4.5M1416.37 147.75h3M1419.37 149.25h4.5M1423.87 150.75h4.5M1428.37 152.25h4.5M1432.87 153.75h3M1435.87 155.25h4.5M1440.37 156.75h4.5M1444.87 158.25h3M1447.87 159.75h4.5M1452.37 161.25h4.5M1456.87 162.75h3M1459.87 164.25h4.5M1464.37 165.75h3" fill="none" stroke="#ffff00" stroke-width="1.6" />
<line x1="1219.5" y1="293.25" x2="1467.6" y2="293.25" stroke="#949494" stroke-width="1.5"/>
<path d="M1370.1 282.0L1377.7 289.3V290.8H1373.2V298.5H1367.0V290.8H1362.5V289.3Z" fill="#ff0000"/>
<path d="M687.37 519.75h3M690.37 518.25h4.5M694.87 516.75h4.5M699.37 515.25h4.5M703.87 513.75h4.5M708.37 512.25h4.5M712.87 510.75h4.5M717.37 509.25h4.5M721.87 507.75h4.5M726.37 506.25h4.5M730.87 504.75h4.5M735.37 503.25h4.5M739.87 501.75h4.5M744.37 500.25h4.5M748.87 498.75h6M754.87 497.25h4.5M759.37 495.75h4.5M763.87 494.25h4.5M768.37 492.75h4.5M772.87 491.25h4.5M777.37 489.75h4.5M781.87 488.25h4.5M786.37 486.75h4.5M790.87 485.25h4.5M795.37 483.75h4.5M799.87 482.25h4.5M804.37 480.75h4.5M808.87 479.25h4.5M813.37 477.75h4.5M817.87 476.25h4.5M822.37 474.75h4.5M826.87 473.25h4.5M831.37 471.75h4.5M835.87 470.25h4.5M840.37 468.75h4.5M844.87 467.25h4.5M849.37 465.75h4.5M853.87 464.25h4.5M858.37 462.75h4.5M862.87 461.25h4.5M867.37 459.75h4.5M871.87 458.25h4.5M876.37 456.75h4.5M880.87 455.25h6M886.87 453.75h4.5M891.37 452.25h4.5M895.87 450.75h4.5M900.37 449.25h4.5M904.87 447.75h4.5M909.37 446.25h4.5M913.87 444.75h4.5M918.37 443.25h4.5M922.87 441.75h4.5M927.37 440.25h4.5M931.87 438.75h4.5M936.37 437.25h4.5M940.87 435.75h4.5M945.37 434.25h4.5M949.87 432.75h4.5M954.37 431.25h4.5M958.87 429.75h4.5M963.37 428.25h4.5M967.87 426.75h4.5M972.37 425.25h4.5M976.87 423.75h4.5M981.37 422.25h4.5M985.87 420.75h4.5M990.37 419.25h4.5M994.87 417.75h4.5M999.37 416.25h4.5M1003.87 414.75h4.5M1008.37 413.25h6M1014.37 411.75h4.5M1018.87 410.25h4.5M1023.37 408.75h4.5M1027.87 407.25h4.5M1032.37 405.75h4.5M1036.87 404.25h4.5M1041.37 402.75h4.5M1045.87 401.25h4.5M1050.37 399.75h4.5M1054.87 398.25h4.5M1059.37 396.75h4.5M1063.87 395.25h4.5M1068.37 393.75h4.5M1072.87 392.25h4.5M1077.37 390.75h4.5M1081.87 389.25h4.5M1086.37 387.75h4.5M1090.87 386.25h4.5M1095.37 384.75h4.5M1099.87 383.25h4.5M1104.37 381.75h4.5M1108.87 380.25h4.5M1113.37 378.75h4.5M1117.87 377.25h4.5M1122.37 375.75h4.5M1126.87 374.25h4.5M1131.37 372.75h4.5M1135.87 371.25h4.5M1140.37 369.75h6M1146.37 368.25h4.5M1150.87 366.75h4.5M1155.37 365.25h4.5M1159.87 363.75h4.5M1164.37 362.25h4.5M1168.87 360.75h4.5M1173.37 359.25h4.5M1177.87 357.75h4.5M1182.37 356.25h4.5M1186.87 354.75h4.5M1191.37 353.25h4.5M1195.87 351.75h4.5M1200.37 350.25h4.5M1204.87 348.75h4.5M1209.37 347.25h4.5M1213.87 345.75h4.5M1218.37 344.25h4.5M1222.87 342.75h4.5M1227.37 341.25h4.5M1231.87 339.75h4.5M1236.37 338.25h4.5M1240.87 336.75h4.5M1245.37 335.25h4.5M1249.87 333.75h4.5M1254.37 332.25h4.5M1258.87 330.75h4.5M1263.37 329.25h4.5M1267.87 327.75h6M1273.87 326.25h4.5M1278.37 324.75h4.5M1282.87 323.25h4.5M1287.37 321.75h4.5M1291.87 320.25h4.5M1296.37 318.75h4.5M1300.87 317.25h4.5M1305.37 315.75h4.5M1309.87 314.25h4.5M1314.37 312.75h4.5M1318.87 311.25h4.5M1323.37 309.75h4.5M1327.87 308.25h4.5M1332.37 306.75h4.5M1336.87 305.25h4.5M1341.37 303.75h4.5M1345.87 302.25h4.5M1350.37 300.75h4.5M1354.87 299.25h4.5M1359.37 297.75h4.5M1363.87 296.25h4.5M1368.37 294.75h4.5M1372.87 293.25h4.5M1377.37 291.75h4.5M1381.87 290.25h4.5M1386.37 288.75h4.5M1390.87 287.25h4.5M1395.37 285.75h4.5M1399.87 284.25h6M1405.87 282.75h4.5M1410.37 281.25h4.5M1414.87 279.75h4.5M1419.37 278.25h4.5M1423.87 276.75h4.5M1428.37 275.25h4.5M1432.87 273.75h4.5M1437.37 272.25h4.5M1441.87 270.75h4.5M1446.37 269.25h4.5M1450.87 267.75h4.5M1455.37 266.25h4.5M1459.87 264.75h4.5M1464.37 263.25h3" fill="none" stroke="#ffff00" stroke-width="1.6" />
<path d="M2.2 447L15.5 461V513L2.2 527Z" fill="#747474" opacity="0.6"/><path d="M14.8 461V513" stroke="#9a9a9a" stroke-width="1.5" opacity="0.3"/>
<path d="M3.5 479L11 486L3.5 493Z" fill="#e09800"/>
<g stroke="#8a0000" stroke-width="1.8" fill="none">
<line x1="2" y1="536.6" x2="1501" y2="536.6"/>
<line x1="2" y1="712.1" x2="1501" y2="712.1"/>
<line x1="2" y1="889" x2="1501" y2="889"/>
<line x1="1468.4" y1="9" x2="1468.4" y2="894"/>
<line x1="1469" y1="689.7" x2="1501" y2="689.7"/>
<rect x="1469.9" y="713.9" width="40" height="173.6"/>
<line x1="1468.4" y1="32.1" x2="1476.6000000000001" y2="32.1"/>
<line x1="1468.4" y1="63.7" x2="1472.2" y2="63.7"/>
<line x1="1468.4" y1="93.6" x2="1476.6000000000001" y2="93.6"/>
<line x1="1468.4" y1="124.9" x2="1472.2" y2="124.9"/>
<line x1="1468.4" y1="154.4" x2="1476.6000000000001" y2="154.4"/>
<line x1="1468.4" y1="185.8" x2="1472.2" y2="185.8"/>
<line x1="1468.4" y1="215.4" x2="1476.6000000000001" y2="215.4"/>
<line x1="1468.4" y1="247.0" x2="1472.2" y2="247.0"/>
<line x1="1468.4" y1="276.8" x2="1476.6000000000001" y2="276.8"/>
<line x1="1468.4" y1="307.9" x2="1472.2" y2="307.9"/>
<line x1="1468.4" y1="337.1" x2="1476.6000000000001" y2="337.1"/>
<line x1="1468.4" y1="368.5" x2="1472.2" y2="368.5"/>
<line x1="1468.4" y1="398.2" x2="1476.6000000000001" y2="398.2"/>
<line x1="1468.4" y1="429.4" x2="1472.2" y2="429.4"/>
<line x1="1468.4" y1="458.8" x2="1476.6000000000001" y2="458.8"/>
<line x1="1468.4" y1="490.1" x2="1472.2" y2="490.1"/>
<line x1="1468.4" y1="519.7" x2="1476.6000000000001" y2="519.7"/>
<line x1="1468.4" y1="561.9" x2="1476.6000000000001" y2="561.9"/>
<line x1="1468.4" y1="587.4" x2="1472.2" y2="587.4"/>
<line x1="1468.4" y1="611.4" x2="1476.6000000000001" y2="611.4"/>
<line x1="1468.4" y1="636.3" x2="1472.2" y2="636.3"/>
<line x1="1468.4" y1="660.8" x2="1476.6000000000001" y2="660.8"/>
<line x1="50" y1="888.8" x2="50" y2="894"/>
<line x1="147.5" y1="888.8" x2="147.5" y2="894"/>
<line x1="177.5" y1="888.8" x2="177.5" y2="894"/>
<line x1="205" y1="888.8" x2="205" y2="894"/>
<line x1="235" y1="888.8" x2="235" y2="894"/>
<line x1="264" y1="888.8" x2="264" y2="894"/>
<line x1="306" y1="888.8" x2="306" y2="894"/>
<line x1="347.5" y1="888.8" x2="347.5" y2="894"/>
<line x1="387.5" y1="888.8" x2="387.5" y2="894"/>
<line x1="430" y1="888.8" x2="430" y2="894"/>
<line x1="472.5" y1="888.8" x2="472.5" y2="894"/>
<line x1="512.5" y1="888.8" x2="512.5" y2="894"/>
<line x1="555" y1="888.8" x2="555" y2="894"/>
<line x1="595" y1="888.8" x2="595" y2="894"/>
<line x1="635" y1="888.8" x2="635" y2="894"/>
<line x1="675" y1="888.8" x2="675" y2="894"/>
<line x1="715" y1="888.8" x2="715" y2="894"/>
<line x1="789" y1="888.8" x2="789" y2="894"/>
<line x1="827.5" y1="888.8" x2="827.5" y2="894"/>
<line x1="865" y1="888.8" x2="865" y2="894"/>
<line x1="902.5" y1="888.8" x2="902.5" y2="894"/>
<line x1="947.5" y1="888.8" x2="947.5" y2="894"/>
<line x1="993.5" y1="888.8" x2="993.5" y2="894"/>
<line x1="1038.5" y1="888.8" x2="1038.5" y2="894"/>
<line x1="1083.5" y1="888.8" x2="1083.5" y2="894"/>
<line x1="1127.5" y1="888.8" x2="1127.5" y2="894"/>
<line x1="1170" y1="888.8" x2="1170" y2="894"/>
<line x1="1212.5" y1="888.8" x2="1212.5" y2="894"/>
<line x1="1255" y1="888.8" x2="1255" y2="894"/>
<line x1="1295" y1="888.8" x2="1295" y2="894"/>
<line x1="1335" y1="888.8" x2="1335" y2="894"/>
<line x1="1375" y1="888.8" x2="1375" y2="894"/>
<line x1="1414" y1="888.8" x2="1414" y2="894"/>
<path d="M1435 15.4L1442.6 23L1435 30.6L1427.4 23Z" stroke-width="1.5"/>
<rect x="1450" y="15.8" width="14" height="15" stroke-width="1.6"/><line x1="1459.2" y1="15.8" x2="1459.2" y2="30.8" stroke-width="1.6"/>
</g>
<rect x="1488.6" y="892.5" width="14" height="3" fill="#f4f4f4"/>
<g id="vol">
<rect x="3.4" y="669.0" width="4.5" height="42.0" fill="#00ffff"/>
<rect x="11.62" y="662.2" width="3.0" height="48.8" fill="none" stroke="#ff4040" stroke-width="1.5"/>
<rect x="19.9" y="669.0" width="4.5" height="42.0" fill="#00ffff"/>
<rect x="28.12" y="672.8" width="3.0" height="38.2" fill="none" stroke="#ff4040" stroke-width="1.5"/>
<rect x="34.9" y="672.0" width="4.5" height="39.0" fill="#00ffff"/>
<rect x="43.12" y="671.2" width="3.0" height="39.8" fill="none" stroke="#ff4040" stroke-width="1.5"/>
<rect x="52.12" y="672.8" width="3.0" height="38.2" fill="none" stroke="#ff4040" stroke-width="1.5"/>
<rect x="58.9" y="672.0" width="4.5" height="39.0" fill="#00ffff"/>
<rect x="67.12" y="662.2" width="3.0" height="48.8" fill="none" stroke="#ff4040" stroke-width="1.5"/>
<rect x="74.62" y="669.8" width="3.0" height="41.2" fill="none" stroke="#ff4040" stroke-width="1.5"/>
<rect x="82.9" y="669.0" width="4.5" height="42.0" fill="#00ffff"/>
<rect x="91.12" y="678.8" width="3.0" height="32.2" fill="none" stroke="#ff4040" stroke-width="1.5"/>
<rect x="98.62" y="672.8" width="3.0" height="38.2" fill="none" stroke="#ff4040" stroke-width="1.5"/>
<rect x="106.12" y="669.8" width="3.0" height="41.2" fill="none" stroke="#ff4040" stroke-width="1.5"/>
<rect x="114.4" y="672.0" width="4.5" height="39.0" fill="#00ffff"/>
<rect x="122.62" y="674.2" width="3.0" height="36.8" fill="none" stroke="#ff4040" stroke-width="1.5"/>
<rect x="129.4" y="678.0" width="4.5" height="33.0" fill="#00ffff"/>
<rect x="137.62" y="674.2" width="3.0" height="36.8" fill="none" stroke="#ff4040" stroke-width="1.5"/>
<rect x="146.62" y="678.8" width="3.0" height="32.2" fill="none" stroke="#ff4040" stroke-width="1.5"/>
<rect x="154.12" y="672.8" width="3.0" height="38.2" fill="none" stroke="#ff4040" stroke-width="1.5"/>
<rect x="161.62" y="663.8" width="3.0" height="47.2" fill="none" stroke="#ff4040" stroke-width="1.5"/>
<rect x="169.12" y="648.8" width="3.0" height="62.2" fill="none" stroke="#ff4040" stroke-width="1.5"/>
<rect x="178.12" y="660.8" width="3.0" height="50.2" fill="none" stroke="#ff4040" stroke-width="1.5"/>
<rect x="184.9" y="661.5" width="4.5" height="49.5" fill="#00ffff"/>
<rect x="193.12" y="645.8" width="3.0" height="65.2" fill="none" stroke="#ff4040" stroke-width="1.5"/>
<rect x="199.9" y="637.5" width="4.5" height="73.5" fill="#00ffff"/>
<rect x="209.62" y="648.8" width="3.0" height="62.2" fill="none" stroke="#ff4040" stroke-width="1.5"/>
<rect x="216.4" y="634.5" width="4.5" height="76.5" fill="#00ffff"/>
<rect x="224.62" y="635.2" width="3.0" height="75.8" fill="none" stroke="#ff4040" stroke-width="1.5"/>
<rect x="232.12" y="579.8" width="3.0" height="131.2" fill="none" stroke="#ff4040" stroke-width="1.5"/>
<rect x="240.4" y="570.0" width="4.5" height="141.0" fill="#00ffff"/>
<rect x="248.62" y="593.2" width="3.0" height="117.8" fill="none" stroke="#ff4040" stroke-width="1.5"/>
<rect x="255.4" y="624.0" width="4.5" height="87.0" fill="#00ffff"/>
<rect x="263.62" y="624.8" width="3.0" height="86.2" fill="none" stroke="#ff4040" stroke-width="1.5"/>
<rect x="272.62" y="579.8" width="3.0" height="131.2" fill="none" stroke="#ff4040" stroke-width="1.5"/>
<rect x="280.12" y="605.2" width="3.0" height="105.8" fill="none" stroke="#ff4040" stroke-width="1.5"/>
<rect x="287.62" y="573.8" width="3.0" height="137.2" fill="none" stroke="#ff4040" stroke-width="1.5"/>
<rect x="295.12" y="566.2" width="3.0" height="144.8" fill="none" stroke="#ff4040" stroke-width="1.5"/>
<rect x="303.4" y="567.0" width="4.5" height="144.0" fill="#00ffff"/>
<rect x="311.62" y="605.2" width="3.0" height="105.8" fill="none" stroke="#ff4040" stroke-width="1.5"/>
<rect x="319.12" y="584.2" width="3.0" height="126.8" fill="none" stroke="#ff4040" stroke-width="1.5"/>
<rect x="325.9" y="597.0" width="4.5" height="114.0" fill="#00ffff"/>
<rect x="334.9" y="616.5" width="4.5" height="94.5" fill="#00ffff"/>
<rect x="343.12" y="627.8" width="3.0" height="83.2" fill="none" stroke="#ff4040" stroke-width="1.5"/>
<rect x="350.62" y="611.2" width="3.0" height="99.8" fill="none" stroke="#ff4040" stroke-width="1.5"/>
<rect x="357.4" y="622.5" width="4.5" height="88.5" fill="#00ffff"/>
<rect x="367.12" y="621.8" width="3.0" height="89.2" fill="none" stroke="#ff4040" stroke-width="1.5"/>
<rect x="374.62" y="608.2" width="3.0" height="102.8" fill="none" stroke="#ff4040" stroke-width="1.5"/>
<rect x="382.12" y="620.2" width="3.0" height="90.8" fill="none" stroke="#ff4040" stroke-width="1.5"/>
<rect x="388.9" y="615.0" width="4.5" height="96.0" fill="#00ffff"/>
<rect x="397.9" y="622.5" width="4.5" height="88.5" fill="#00ffff"/>
<rect x="406.12" y="638.2" width="3.0" height="72.8" fill="none" stroke="#ff4040" stroke-width="1.5"/>
<rect x="412.9" y="637.5" width="4.5" height="73.5" fill="#00ffff"/>
<rect x="421.12" y="617.2" width="3.0" height="93.8" fill="none" stroke="#ff4040" stroke-width="1.5"/>
<rect x="430.12" y="594.8" width="3.0" height="116.2" fill="none" stroke="#ff4040" stroke-width="1.5"/>
<rect x="436.9" y="598.5" width="4.5" height="112.5" fill="#00ffff"/>
<rect x="445.12" y="603.8" width="3.0" height="107.2" fill="none" stroke="#ff4040" stroke-width="1.5"/>
<rect x="452.62" y="594.8" width="3.0" height="116.2" fill="none" stroke="#ff4040" stroke-width="1.5"/>
<rect x="460.9" y="585.0" width="4.5" height="126.0" fill="#00ffff"/>
<rect x="468.4" y="619.5" width="4.5" height="91.5" fill="#00ffff"/>
<rect x="476.62" y="615.8" width="3.0" height="95.2" fill="none" stroke="#ff4040" stroke-width="1.5"/>
<rect x="483.4" y="622.5" width="4.5" height="88.5" fill="#00ffff"/>
<rect x="493.12" y="638.2" width="3.0" height="72.8" fill="none" stroke="#ff4040" stroke-width="1.5"/>
<rect x="499.9" y="622.5" width="4.5" height="88.5" fill="#00ffff"/>
<rect x="508.12" y="621.8" width="3.0" height="89.2" fill="none" stroke="#ff4040" stroke-width="1.5"/>
<rect x="515.62" y="621.8" width="3.0" height="89.2" fill="none" stroke="#ff4040" stroke-width="1.5"/>
<rect x="523.9" y="628.5" width="4.5" height="82.5" fill="#00ffff"/>
<rect x="532.12" y="633.8" width="3.0" height="77.2" fill="none" stroke="#ff4040" stroke-width="1.5"/>
<rect x="538.9" y="622.5" width="4.5" height="88.5" fill="#00ffff"/>
<rect x="546.4" y="628.5" width="4.5" height="82.5" fill="#00ffff"/>
<rect x="555.4" y="640.5" width="4.5" height="70.5" fill="#00ffff"/>
<rect x="562.9" y="630.0" width="4.5" height="81.0" fill="#00ffff"/>
<rect x="570.4" y="639.0" width="4.5" height="72.0" fill="#00ffff"/>
<rect x="579.4" y="637.5" width="4.5" height="73.5" fill="#00ffff"/>
<rect x="587.62" y="654.8" width="3.0" height="56.2" fill="none" stroke="#ff4040" stroke-width="1.5"/>
<rect x="594.4" y="628.5" width="4.5" height="82.5" fill="#00ffff"/>
<rect x="602.62" y="647.2" width="3.0" height="63.8" fill="none" stroke="#ff4040" stroke-width="1.5"/>
<rect x="611.62" y="651.8" width="3.0" height="59.2" fill="none" stroke="#ff4040" stroke-width="1.5"/>
<rect x="618.4" y="660.0" width="4.5" height="51.0" fill="#00ffff"/>
<rect x="626.62" y="639.8" width="3.0" height="71.2" fill="none" stroke="#ff4040" stroke-width="1.5"/>
<rect x="633.4" y="657.0" width="4.5" height="54.0" fill="#00ffff"/>
<rect x="643.12" y="657.8" width="3.0" height="53.2" fill="none" stroke="#ff4040" stroke-width="1.5"/>
<rect x="650.62" y="654.8" width="3.0" height="56.2" fill="none" stroke="#ff4040" stroke-width="1.5"/>
<rect x="658.12" y="650.2" width="3.0" height="60.8" fill="none" stroke="#ff4040" stroke-width="1.5"/>
<rect x="664.9" y="643.5" width="4.5" height="67.5" fill="#00ffff"/>
<rect x="673.9" y="657.0" width="4.5" height="54.0" fill="#00ffff"/>
<rect x="682.12" y="657.8" width="3.0" height="53.2" fill="none" stroke="#ff4040" stroke-width="1.5"/>
<rect x="688.9" y="660.0" width="4.5" height="51.0" fill="#00ffff"/>
<rect x="696.4" y="660.0" width="4.5" height="51.0" fill="#00ffff"/>
<rect x="706.12" y="668.2" width="3.0" height="42.8" fill="none" stroke="#ff4040" stroke-width="1.5"/>
<rect x="713.62" y="662.2" width="3.0" height="48.8" fill="none" stroke="#ff4040" stroke-width="1.5"/>
<rect x="721.12" y="654.8" width="3.0" height="56.2" fill="none" stroke="#ff4040" stroke-width="1.5"/>
<rect x="728.62" y="662.2" width="3.0" height="48.8" fill="none" stroke="#ff4040" stroke-width="1.5"/>
<rect x="737.62" y="659.2" width="3.0" height="51.8" fill="none" stroke="#ff4040" stroke-width="1.5"/>
<rect x="744.4" y="660.0" width="4.5" height="51.0" fill="#00ffff"/>
<rect x="751.9" y="655.5" width="4.5" height="55.5" fill="#00ffff"/>
<rect x="759.4" y="661.5" width="4.5" height="49.5" fill="#00ffff"/>
<rect x="768.4" y="664.5" width="4.5" height="46.5" fill="#00ffff"/>
<rect x="775.9" y="664.5" width="4.5" height="46.5" fill="#00ffff"/>
<rect x="784.12" y="668.2" width="3.0" height="42.8" fill="none" stroke="#ff4040" stroke-width="1.5"/>
<rect x="791.62" y="645.8" width="3.0" height="65.2" fill="none" stroke="#ff4040" stroke-width="1.5"/>
<rect x="799.9" y="649.5" width="4.5" height="61.5" fill="#00ffff"/>
<rect x="808.12" y="657.8" width="3.0" height="53.2" fill="none" stroke="#ff4040" stroke-width="1.5"/>
<rect x="814.9" y="655.5" width="4.5" height="55.5" fill="#00ffff"/>
<rect x="823.12" y="671.2" width="3.0" height="39.8" fill="none" stroke="#ff4040" stroke-width="1.5"/>
<rect x="831.4" y="672.0" width="4.5" height="39.0" fill="#00ffff"/>
<rect x="838.9" y="652.5" width="4.5" height="58.5" fill="#00ffff"/>
<rect x="847.12" y="638.2" width="3.0" height="72.8" fill="none" stroke="#ff4040" stroke-width="1.5"/>
<rect x="854.62" y="638.2" width="3.0" height="72.8" fill="none" stroke="#ff4040" stroke-width="1.5"/>
<rect x="863.62" y="657.8" width="3.0" height="53.2" fill="none" stroke="#ff4040" stroke-width="1.5"/>
<rect x="870.4" y="648.0" width="4.5" height="63.0" fill="#00ffff"/>
<rect x="878.62" y="666.8" width="3.0" height="44.2" fill="none" stroke="#ff4040" stroke-width="1.5"/>
<rect x="886.12" y="660.8" width="3.0" height="50.2" fill="none" stroke="#ff4040" stroke-width="1.5"/>
<rect x="894.4" y="664.5" width="4.5" height="46.5" fill="#00ffff"/>
<rect x="902.62" y="647.2" width="3.0" height="63.8" fill="none" stroke="#ff4040" stroke-width="1.5"/>
<rect x="910.12" y="657.8" width="3.0" height="53.2" fill="none" stroke="#ff4040" stroke-width="1.5"/>
<rect x="916.9" y="658.5" width="4.5" height="52.5" fill="#00ffff"/>
<rect x="925.9" y="660.0" width="4.5" height="51.0" fill="#00ffff"/>
<rect x="934.12" y="671.2" width="3.0" height="39.8" fill="none" stroke="#ff4040" stroke-width="1.5"/>
<rect x="940.9" y="657.0" width="4.5" height="54.0" fill="#00ffff"/>
<rect x="948.4" y="672.0" width="4.5" height="39.0" fill="#00ffff"/>
<rect x="957.4" y="675.0" width="4.5" height="36.0" fill="#00ffff"/>
<rect x="964.9" y="673.5" width="4.5" height="37.5" fill="#00ffff"/>
<rect x="973.12" y="675.8" width="3.0" height="35.2" fill="none" stroke="#ff4040" stroke-width="1.5"/>
<rect x="980.62" y="668.2" width="3.0" height="42.8" fill="none" stroke="#ff4040" stroke-width="1.5"/>
<rect x="988.9" y="676.5" width="4.5" height="34.5" fill="#00ffff"/>
<rect x="996.4" y="673.5" width="4.5" height="37.5" fill="#00ffff"/>
<rect x="1003.9" y="673.5" width="4.5" height="37.5" fill="#00ffff"/>
<rect x="1012.12" y="674.2" width="3.0" height="36.8" fill="none" stroke="#ff4040" stroke-width="1.5"/>
<rect x="1020.4" y="664.5" width="4.5" height="46.5" fill="#00ffff"/>
<rect x="1028.62" y="677.2" width="3.0" height="33.8" fill="none" stroke="#ff4040" stroke-width="1.5"/>
<rect x="1036.12" y="674.2" width="3.0" height="36.8" fill="none" stroke="#ff4040" stroke-width="1.5"/>
<rect x="1043.62" y="674.2" width="3.0" height="36.8" fill="none" stroke="#ff4040" stroke-width="1.5"/>
<rect x="1052.62" y="674.2" width="3.0" height="36.8" fill="none" stroke="#ff4040" stroke-width="1.5"/>
<rect x="1059.4" y="676.5" width="4.5" height="34.5" fill="#00ffff"/>
<rect x="1067.62" y="675.8" width="3.0" height="35.2" fill="none" stroke="#ff4040" stroke-width="1.5"/>
<rect x="1074.4" y="675.0" width="4.5" height="36.0" fill="#00ffff"/>
<rect x="1083.4" y="675.0" width="4.5" height="36.0" fill="#00ffff"/>
<rect x="1091.62" y="663.8" width="3.0" height="47.2" fill="none" stroke="#ff4040" stroke-width="1.5"/>
<rect x="1098.4" y="667.5" width="4.5" height="43.5" fill="#00ffff"/>
<rect x="1108.12" y="651.8" width="3.0" height="59.2" fill="none" stroke="#ff4040" stroke-width="1.5"/>
<rect x="1114.9" y="670.5" width="4.5" height="40.5" fill="#00ffff"/>
<rect x="1123.12" y="672.8" width="3.0" height="38.2" fill="none" stroke="#ff4040" stroke-width="1.5"/>
<rect x="1129.9" y="672.0" width="4.5" height="39.0" fill="#00ffff"/>
<rect x="1139.62" y="677.2" width="3.0" height="33.8" fill="none" stroke="#ff4040" stroke-width="1.5"/>
<rect x="1146.4" y="676.5" width="4.5" height="34.5" fill="#00ffff"/>
<rect x="1153.9" y="675.0" width="4.5" height="36.0" fill="#00ffff"/>
<rect x="1162.12" y="672.8" width="3.0" height="38.2" fill="none" stroke="#ff4040" stroke-width="1.5"/>
<rect x="1171.12" y="674.2" width="3.0" height="36.8" fill="none" stroke="#ff4040" stroke-width="1.5"/>
<rect x="1178.62" y="656.2" width="3.0" height="54.8" fill="none" stroke="#ff4040" stroke-width="1.5"/>
<rect x="1186.12" y="662.2" width="3.0" height="48.8" fill="none" stroke="#ff4040" stroke-width="1.5"/>
<rect x="1193.62" y="671.2" width="3.0" height="39.8" fill="none" stroke="#ff4040" stroke-width="1.5"/>
<rect x="1201.9" y="672.0" width="4.5" height="39.0" fill="#00ffff"/>
<rect x="1210.12" y="671.2" width="3.0" height="39.8" fill="none" stroke="#ff4040" stroke-width="1.5"/>
<rect x="1217.62" y="668.2" width="3.0" height="42.8" fill="none" stroke="#ff4040" stroke-width="1.5"/>
<rect x="1225.12" y="657.8" width="3.0" height="53.2" fill="none" stroke="#ff4040" stroke-width="1.5"/>
<rect x="1233.4" y="663.0" width="4.5" height="48.0" fill="#00ffff"/>
<rect x="1240.9" y="666.0" width="4.5" height="45.0" fill="#00ffff"/>
<rect x="1248.4" y="661.5" width="4.5" height="49.5" fill="#00ffff"/>
<rect x="1256.62" y="659.2" width="3.0" height="51.8" fill="none" stroke="#ff4040" stroke-width="1.5"/>
<rect x="1265.62" y="666.8" width="3.0" height="44.2" fill="none" stroke="#ff4040" stroke-width="1.5"/>
<rect x="1273.12" y="653.2" width="3.0" height="57.8" fill="none" stroke="#ff4040" stroke-width="1.5"/>
<rect x="1280.62" y="633.8" width="3.0" height="77.2" fill="none" stroke="#ff4040" stroke-width="1.5"/>
<rect x="1288.12" y="657.8" width="3.0" height="53.2" fill="none" stroke="#ff4040" stroke-width="1.5"/>
<rect x="1297.12" y="648.8" width="3.0" height="62.2" fill="none" stroke="#ff4040" stroke-width="1.5"/>
<rect x="1303.9" y="649.5" width="4.5" height="61.5" fill="#00ffff"/>
<rect x="1311.4" y="652.5" width="4.5" height="58.5" fill="#00ffff"/>
<rect x="1319.62" y="660.8" width="3.0" height="50.2" fill="none" stroke="#ff4040" stroke-width="1.5"/>
<rect x="1327.9" y="652.5" width="4.5" height="58.5" fill="#00ffff"/>
<rect x="1335.4" y="654.0" width="4.5" height="57.0" fill="#00ffff"/>
<rect x="1343.62" y="668.2" width="3.0" height="42.8" fill="none" stroke="#ff4040" stroke-width="1.5"/>
<rect x="1351.12" y="669.8" width="3.0" height="41.2" fill="none" stroke="#ff4040" stroke-width="1.5"/>
<rect x="1360.12" y="663.8" width="3.0" height="47.2" fill="none" stroke="#ff4040" stroke-width="1.5"/>
<rect x="1366.9" y="667.5" width="4.5" height="43.5" fill="#00ffff"/>
<rect x="1375.12" y="669.8" width="3.0" height="41.2" fill="none" stroke="#ff4040" stroke-width="1.5"/>
<rect x="1381.9" y="669.0" width="4.5" height="42.0" fill="#00ffff"/>
<rect x="1390.9" y="661.5" width="4.5" height="49.5" fill="#00ffff"/>
<rect x="1399.12" y="675.8" width="3.0" height="35.2" fill="none" stroke="#ff4040" stroke-width="1.5"/>
<rect x="1405.9" y="679.5" width="4.5" height="31.5" fill="#00ffff"/>
<rect x="1414.12" y="678.8" width="3.0" height="32.2" fill="none" stroke="#ff4040" stroke-width="1.5"/>
<rect x="1423.12" y="677.2" width="3.0" height="33.8" fill="none" stroke="#ff4040" stroke-width="1.5"/>
<rect x="1430.62" y="675.8" width="3.0" height="35.2" fill="none" stroke="#ff4040" stroke-width="1.5"/>
<rect x="1438.12" y="669.8" width="3.0" height="41.2" fill="none" stroke="#ff4040" stroke-width="1.5"/>
</g>
<path d="M108.37 672.75h37.5M160.87 672.75h3M979.87 672.75h7.5M994.87 672.75h25.5M1051.87 672.75h6M1090.87 672.75h6M1174.87 672.75h3M1411.87 672.75h6M6.37 671.25h3M52.87 671.25h10.5M90.37 671.25h18M163.87 671.25h3M964.87 671.25h15M1020.37 671.25h31.5M1096.87 671.25h6M1143.37 671.25h3M1177.87 671.25h3M1405.87 671.25h6M9.37 669.75h3M33.37 669.75h19.5M63.37 669.75h3M87.37 669.75h3M166.87 669.75h3M961.87 669.75h3M1102.87 669.75h3M1180.87 669.75h3M1402.87 669.75h3M12.37 668.25h6M25.87 668.25h7.5M66.37 668.25h21M169.87 668.25h3M958.87 668.25h3M1105.87 668.25h3M1137.37 668.25h4.5M1183.87 668.25h3M1216.87 668.25h15M1372.87 668.25h13.5M1398.37 668.25h4.5M18.37 666.75h7.5M172.87 666.75h4.5M955.87 666.75h3M1108.87 666.75h4.5M1129.87 666.75h7.5M1186.87 666.75h30M1231.87 666.75h7.5M1368.37 666.75h4.5M1386.37 666.75h4.5M1395.37 666.75h3M145.87 674.25h15M987.37 674.25h7.5M1057.87 674.25h33M1147.87 674.25h27M1417.87 674.25h4.5M177.37 665.25h4.5M952.87 665.25h3M1113.37 665.25h16.5M1239.37 665.25h7.5M1365.37 665.25h3M1390.87 665.25h4.5M181.87 663.75h3M781.87 663.75h6M948.37 663.75h4.5M1246.87 663.75h7.5M1362.37 663.75h3M184.87 662.25h3M774.37 662.25h7.5M787.87 662.25h3M837.37 662.25h4.5M945.37 662.25h3M1254.37 662.25h18M1357.87 662.25h4.5M706.87 660.75h36M766.87 660.75h7.5M790.87 660.75h7.5M832.87 660.75h4.5M841.87 660.75h3M933.37 660.75h12M1272.37 660.75h3M1350.37 660.75h7.5M189.37 659.25h3M703.87 659.25h3M742.87 659.25h7.5M757.87 659.25h9M798.37 659.25h6M829.87 659.25h3M844.87 659.25h3M895.87 659.25h4.5M907.87 659.25h7.5M930.37 659.25h3M1347.37 659.25h3M700.87 657.75h3M750.37 657.75h7.5M804.37 657.75h3M826.87 657.75h3M847.87 657.75h3M892.87 657.75h3M900.37 657.75h7.5M915.37 657.75h15M1276.87 657.75h3M1342.87 657.75h4.5M696.37 656.25h4.5M807.37 656.25h6M820.87 656.25h6M850.87 656.25h3M889.87 656.25h3M1339.87 656.25h3M195.37 654.75h3M693.37 654.75h3M813.37 654.75h7.5M853.87 654.75h4.5M885.37 654.75h4.5M1281.37 654.75h4.5M1326.37 654.75h13.5M198.37 653.25h3M640.87 653.25h15M672.37 653.25h21M858.37 653.25h4.5M882.37 653.25h3M1285.87 653.25h9M1320.37 653.25h6M201.37 651.75h10.5M634.87 651.75h6M655.87 651.75h16.5M862.87 651.75h3M879.37 651.75h3M1294.87 651.75h6M1317.37 651.75h3M211.87 650.25h3M865.87 650.25h3M876.37 650.25h3M1300.87 650.25h3M1314.37 650.25h3M214.87 648.75h3M618.37 648.75h4.5M630.37 648.75h3M868.87 648.75h3M873.37 648.75h3M1303.87 648.75h10.5M615.37 647.25h3M622.87 647.25h3M612.37 645.75h3M625.87 645.75h3M220.87 644.25h3M609.37 644.25h3M606.37 642.75h3M588.37 641.25h3M601.87 641.25h4.5M591.37 639.75h3M598.87 639.75h3M583.87 638.25h3M594.37 638.25h4.5M579.37 635.25h3M574.87 633.75h4.5M568.87 632.25h6M555.37 630.75h13.5M552.37 629.25h3M547.87 627.75h4.5M414.37 626.25h12M522.37 626.25h16.5M543.37 626.25h4.5M411.37 624.75h3M426.37 624.75h3M501.37 624.75h21M538.87 624.75h4.5M408.37 623.25h3M429.37 623.25h3M367.87 620.25h3M403.87 620.25h3M433.87 620.25h3M364.87 618.75h3M370.87 618.75h3M400.87 618.75h3M361.87 617.25h3M373.87 617.25h27M358.87 615.75h3M441.37 614.25h3M348.37 606.75h4.5M484.87 606.75h3M343.87 605.25h4.5M480.37 605.25h4.5M282.37 603.75h3M475.87 603.75h4.5M249.37 602.25h4.5M285.37 602.25h3M472.87 602.25h3M253.87 600.75h6M469.87 600.75h3M259.87 599.25h3M457.87 599.25h3M466.87 599.25h3M262.87 597.75h12M463.87 597.75h3M312.37 582.75h3M324.37 582.75h3M309.37 581.25h3M315.37 581.25h3M321.37 581.25h3M306.37 579.75h3M318.37 579.75h3M1422.37 675.75h6M1428.37 677.25h10.5M5.62 672.00v1.5M188.62 660.00v1.5M193.12 657.00v1.5M194.62 655.50v1.5M218.62 646.50v1.5M220.12 645.00v1.5M224.62 642.00v1.5M226.12 640.50v1.5M227.62 637.50v3M229.12 634.50v3M230.62 631.50v3M232.12 628.50v3M233.62 627.00v1.5M235.12 624.00v3M236.62 621.00v3M238.12 619.50v1.5M239.62 616.50v3M241.12 613.50v3M242.62 612.00v1.5M244.12 609.00v3M245.62 607.50v1.5M247.12 606.00v1.5M248.62 603.00v3M275.62 598.50v1.5M277.12 600.00v1.5M278.62 601.50v1.5M280.12 603.00v1.5M281.62 604.50v1.5M289.12 600.00v1.5M290.62 597.00v3M292.12 595.50v1.5M293.62 594.00v1.5M295.12 591.00v3M296.62 589.50v1.5M298.12 586.50v3M299.62 585.00v1.5M301.12 583.50v1.5M302.62 580.50v3M304.12 579.00v1.5M305.62 577.50v1.5M328.12 583.50v1.5M329.62 585.00v1.5M331.12 586.50v1.5M332.62 588.00v1.5M334.12 589.50v1.5M335.62 591.00v1.5M337.12 592.50v1.5M338.62 594.00v3M340.12 597.00v3M341.62 600.00v1.5M343.12 601.50v3M353.62 607.50v1.5M355.12 609.00v3M356.62 612.00v1.5M358.12 613.50v1.5M407.62 621.00v1.5M433.12 621.00v1.5M437.62 618.00v1.5M439.12 616.50v1.5M440.62 615.00v1.5M445.12 612.00v1.5M446.62 610.50v1.5M448.12 609.00v1.5M449.62 607.50v1.5M451.12 606.00v1.5M452.62 604.50v1.5M454.12 603.00v1.5M455.62 601.50v1.5M457.12 600.00v1.5M461.62 597.00v1.5M463.12 595.50v1.5M488.62 607.50v1.5M490.12 609.00v3M491.62 612.00v1.5M493.12 613.50v1.5M494.62 615.00v1.5M496.12 616.50v1.5M497.62 618.00v3M499.12 621.00v1.5M500.62 622.50v1.5M583.12 636.00v1.5M587.62 639.00v1.5M629.62 646.50v1.5M634.12 649.50v1.5M872.62 646.50v1.5M1142.62 669.00v1.5M1147.12 672.00v1.5M1276.12 658.50v1.5M1280.62 655.50v1.5" fill="none" stroke="#ffffff" stroke-width="1.6" />
<path d="M4.87 677.25h3M7.87 675.75h4.5M12.37 674.25h3M15.37 672.75h27M127.87 672.75h37.5M1011.37 672.75h91.5M1170.37 672.75h6M42.37 671.25h15M78.37 671.25h49.5M165.37 671.25h3M999.37 671.25h12M1102.87 671.25h4.5M1165.87 671.25h4.5M1176.37 671.25h39M1420.87 671.25h15M57.37 669.75h21M168.37 669.75h7.5M993.37 669.75h6M1107.37 669.75h58.5M1215.37 669.75h7.5M1411.87 669.75h9M175.87 668.25h13.5M987.37 668.25h6M1222.87 668.25h12M1405.87 668.25h6M189.37 666.75h3M975.37 666.75h12M1234.87 666.75h12M1402.87 666.75h3M192.37 665.25h4.5M969.37 665.25h6M1246.87 665.25h25.5M1398.37 665.25h4.5M196.87 663.75h3M963.37 663.75h6M1272.37 663.75h4.5M1395.37 663.75h3M199.87 662.25h7.5M946.87 662.25h16.5M1276.87 662.25h3M1380.37 662.25h15M207.37 660.75h4.5M754.87 660.75h36M829.87 660.75h13.5M939.37 660.75h7.5M1279.87 660.75h4.5M1372.87 660.75h7.5M211.87 659.25h3M742.87 659.25h12M790.87 659.25h39M843.37 659.25h3M933.37 659.25h6M1284.37 659.25h3M1365.37 659.25h7.5M214.87 657.75h3M726.37 657.75h16.5M846.37 657.75h4.5M894.37 657.75h4.5M930.37 657.75h3M1287.37 657.75h7.5M1359.37 657.75h6M703.87 656.25h22.5M850.87 656.25h3M876.37 656.25h18M898.87 656.25h3M925.87 656.25h4.5M1294.87 656.25h15M1354.87 656.25h4.5M219.37 654.75h3M694.87 654.75h9M853.87 654.75h7.5M868.87 654.75h7.5M901.87 654.75h6M921.37 654.75h4.5M1309.87 654.75h12M1350.37 654.75h4.5M222.37 653.25h3M672.37 653.25h22.5M861.37 653.25h7.5M907.87 653.25h13.5M1321.87 653.25h28.5M663.37 651.75h9M655.87 650.25h7.5M648.37 648.75h7.5M640.87 647.25h7.5M633.37 645.75h7.5M630.37 644.25h3M618.37 642.75h12M615.37 641.25h3M610.87 639.75h4.5M606.37 638.25h4.5M600.37 636.75h6M592.87 635.25h7.5M586.87 633.75h6M583.87 632.25h3M241.87 630.75h3M577.87 630.75h6M244.87 629.25h3M553.87 629.25h24M247.87 627.75h3M547.87 627.75h6M250.87 626.25h3M543.37 626.25h4.5M253.87 624.75h3M538.87 624.75h4.5M535.87 623.25h3M258.37 621.75h3M411.37 621.75h16.5M531.37 621.75h4.5M261.37 620.25h3M406.87 620.25h4.5M427.87 620.25h6M528.37 620.25h3M264.37 618.75h3M403.87 618.75h3M433.87 618.75h3M523.87 618.75h4.5M267.37 617.25h3M400.87 617.25h3M436.87 617.25h6M520.87 617.25h3M270.37 615.75h3M397.87 615.75h3M442.87 615.75h9M516.37 615.75h4.5M394.87 614.25h3M451.87 614.25h6M511.87 614.25h4.5M274.87 612.75h3M388.87 612.75h6M457.87 612.75h3M507.37 612.75h4.5M277.87 611.25h3M382.87 611.25h6M460.87 611.25h22.5M504.37 611.25h3M379.87 609.75h3M483.37 609.75h21M376.87 608.25h3M283.87 606.75h3M372.37 605.25h3M369.37 603.75h3M364.87 600.75h3M361.87 599.25h3M357.37 597.75h4.5M354.37 596.25h3M349.87 594.75h4.5M298.87 593.25h3M324.37 593.25h9M346.87 593.25h3M316.87 591.75h7.5M333.37 591.75h13.5M309.37 590.25h7.5M304.87 588.75h4.5M218.62 655.50v1.5M226.12 651.00v1.5M227.62 648.00v3M229.12 646.50v1.5M230.62 645.00v1.5M232.12 642.00v3M233.62 640.50v1.5M235.12 639.00v1.5M236.62 637.50v1.5M238.12 634.50v3M239.62 633.00v1.5M241.12 631.50v1.5M257.62 622.50v1.5M274.12 613.50v1.5M281.62 609.00v1.5M283.12 607.50v1.5M287.62 604.50v1.5M289.12 603.00v1.5M290.62 601.50v1.5M292.12 600.00v1.5M293.62 598.50v1.5M295.12 597.00v1.5M296.62 595.50v1.5M298.12 594.00v1.5M302.62 591.00v1.5M304.12 589.50v1.5M368.62 601.50v1.5M376.12 606.00v1.5M1436.62 672.00v1.5M1438.12 673.50v1.5" fill="none" stroke="#ffff00" stroke-width="1.6" />
<path d="M4.87 792.75h3M520.87 792.75h3M811.87 792.75h3M838.87 792.75h3M7.87 791.25h3M96.37 791.25h6M109.87 791.25h3M523.87 791.25h3M808.87 791.25h3M10.87 789.75h12M91.87 789.75h4.5M102.37 789.75h3M105.37 788.25h3M369.37 788.25h3M931.87 788.25h3M24.37 786.75h3M928.87 786.75h3M33.37 785.25h4.5M1062.37 785.25h3M1071.37 785.25h3M28.87 783.75h4.5M375.37 783.75h3M1065.37 783.75h3M1182.37 783.75h3M378.37 782.25h3M922.87 782.25h3M381.37 780.75h3M850.87 780.75h3M1239.37 779.25h3M877.87 777.75h4.5M894.37 777.75h3M1189.87 777.75h3M1236.37 777.75h3M43.87 776.25h3M61.87 776.25h3M163.87 776.25h3M447.37 776.25h3M874.87 776.25h3M882.37 776.25h3M889.87 776.25h4.5M1233.37 776.25h3M46.87 774.75h3M55.87 774.75h3M64.87 774.75h3M871.87 774.75h3M885.37 774.75h4.5M1194.37 774.75h3M1219.87 774.75h3M1230.37 774.75h3M49.87 773.25h3M67.87 773.25h4.5M168.37 773.25h3M451.87 773.25h3M468.37 773.25h10.5M859.87 773.25h3M868.87 773.25h3M1197.37 773.25h4.5M1222.87 773.25h3M1227.37 773.25h3M72.37 771.75h4.5M171.37 771.75h3M181.87 771.75h3M189.37 771.75h3M213.37 771.75h3M220.87 771.75h3M255.37 771.75h3M454.87 771.75h13.5M865.87 771.75h3M1201.87 771.75h3M361.87 794.25h3M517.87 794.25h3M814.87 794.25h4.5M834.37 794.25h4.5M115.87 795.75h3M819.37 795.75h3M828.37 795.75h6M316.87 797.25h4.5M822.37 797.25h6M120.37 798.75h3M312.37 798.75h4.5M322.87 800.25h3M744.37 801.75h7.5M739.87 803.25h4.5M751.87 803.25h3M736.87 804.75h3M732.37 807.75h3M501.37 809.25h3M1351.87 810.75h10.5M760.87 815.25h3M133.87 816.75h3M336.37 818.25h3M687.37 818.25h4.5M339.37 819.75h3M658.87 819.75h3M682.87 819.75h4.5M766.87 819.75h3M174.37 770.25h3M250.87 770.25h4.5M258.37 770.25h3M271.87 770.25h12M903.37 770.25h3M1204.87 770.25h3M1267.87 770.25h3M1279.87 770.25h12M177.37 768.75h3M193.87 768.75h18M244.87 768.75h6M261.37 768.75h3M267.37 768.75h4.5M283.87 768.75h3M906.37 768.75h3M1207.87 768.75h3M1270.87 768.75h3M1276.87 768.75h3M1291.87 768.75h3M226.87 767.25h3M238.87 767.25h6M264.37 767.25h3M286.87 767.25h3M294.37 767.25h3M909.37 767.25h3M1273.87 767.25h3M1294.87 767.25h3M1311.37 767.25h4.5M229.87 765.75h3M235.87 765.75h3M289.87 765.75h4.5M1297.87 765.75h4.5M1308.37 765.75h3M1315.87 765.75h3M1326.37 765.75h4.5M232.87 764.25h3M1302.37 764.25h6M1318.87 764.25h7.5M342.37 821.25h3M661.87 821.25h3M664.87 822.75h4.5M1368.37 822.75h3M669.37 824.25h3M1371.37 824.25h3M672.37 825.75h3M1374.37 825.75h3M412.87 833.25h3M996.37 833.25h3M777.37 834.75h4.5M991.87 834.75h4.5M1099.87 834.75h3M1146.37 834.75h3M781.87 836.25h4.5M987.37 836.25h4.5M1000.87 836.25h3M1102.87 836.25h3M1143.37 836.25h3M984.37 837.75h3M1021.87 837.75h9M1105.87 837.75h3M1140.37 837.75h3M981.37 839.25h3M1108.87 839.25h3M1137.37 839.25h3M1111.87 840.75h3M1120.87 840.75h6M1114.87 842.25h6M1126.87 842.25h3M1132.87 842.25h3M1129.87 843.75h3M574.87 845.25h3M645.37 845.25h3M966.37 845.25h4.5M970.87 846.75h4.5M579.37 848.25h6M639.37 848.25h4.5M585.37 849.75h4.5M633.37 849.75h6M1392.37 849.75h3M589.87 851.25h3M630.37 851.25h3M1395.37 851.25h3M592.87 852.75h3M627.37 852.75h3M1398.37 852.75h3M1420.87 852.75h3M595.87 854.25h13.5M1401.37 854.25h3M609.37 855.75h4.5M1404.37 855.75h3M1416.37 855.75h3M613.87 857.25h3M1407.37 857.25h9M616.87 858.75h3M23.62 787.50v1.5M28.12 784.50v1.5M38.62 783.00v1.5M40.12 780.00v3M41.62 778.50v1.5M43.12 777.00v1.5M53.62 771.00v1.5M55.12 772.50v1.5M59.62 775.50v1.5M61.12 777.00v1.5M77.62 772.50v1.5M79.12 774.00v1.5M80.62 775.50v1.5M82.12 777.00v1.5M83.62 778.50v1.5M85.12 780.00v1.5M86.62 781.50v3M88.12 784.50v1.5M89.62 786.00v1.5M91.12 787.50v1.5M109.12 789.00v1.5M113.62 792.00v1.5M115.12 793.50v1.5M119.62 796.50v1.5M124.12 799.50v1.5M125.62 801.00v3M127.12 804.00v3M128.62 807.00v3M130.12 810.00v3M131.62 813.00v1.5M133.12 814.50v1.5M137.62 817.50v1.5M139.12 819.00v1.5M140.62 816.00v3M142.12 813.00v3M143.62 811.50v1.5M145.12 808.50v3M146.62 805.50v3M148.12 802.50v3M149.62 799.50v3M151.12 795.00v4.5M152.62 792.00v3M154.12 789.00v3M155.62 786.00v3M157.12 784.50v1.5M158.62 781.50v3M160.12 780.00v1.5M161.62 778.50v1.5M163.12 777.00v1.5M167.62 774.00v1.5M181.12 769.50v1.5M185.62 772.50v1.5M187.12 774.00v1.5M188.62 772.50v1.5M193.12 769.50v1.5M212.62 769.50v1.5M217.12 772.50v1.5M218.62 774.00v1.5M220.12 772.50v1.5M224.62 769.50v1.5M226.12 768.00v1.5M296.62 768.00v1.5M298.12 769.50v3M299.62 772.50v4.5M301.12 777.00v4.5M302.62 781.50v3M304.12 784.50v4.5M305.62 789.00v3M307.12 792.00v1.5M308.62 793.50v1.5M310.12 795.00v1.5M311.62 796.50v1.5M322.12 798.00v1.5M326.62 801.00v1.5M328.12 802.50v1.5M329.62 804.00v3M331.12 807.00v3M332.62 810.00v1.5M334.12 811.50v3M335.62 814.50v3M344.62 819.00v1.5M346.12 816.00v3M347.62 813.00v3M349.12 810.00v3M350.62 808.50v1.5M352.12 805.50v3M353.62 804.00v1.5M355.12 802.50v1.5M356.62 799.50v3M358.12 798.00v1.5M359.62 796.50v1.5M361.12 795.00v1.5M365.62 792.00v1.5M367.12 790.50v1.5M368.62 789.00v1.5M373.12 786.00v1.5M374.62 784.50v1.5M385.12 781.50v3M386.62 784.50v1.5M388.12 786.00v1.5M389.62 787.50v3M391.12 790.50v3M392.62 793.50v3M394.12 796.50v3M395.62 799.50v3M397.12 802.50v3M398.62 805.50v3M400.12 808.50v1.5M401.62 810.00v3M403.12 813.00v1.5M404.62 814.50v1.5M406.12 816.00v3M407.62 819.00v3M409.12 822.00v3M410.62 825.00v3M412.12 828.00v3M413.62 831.00v1.5M415.12 834.00v1.5M416.62 829.50v3M418.12 826.50v3M419.62 823.50v3M421.12 820.50v3M422.62 817.50v3M424.12 814.50v3M425.62 810.00v4.5M427.12 805.50v4.5M428.62 801.00v4.5M430.12 798.00v3M431.62 795.00v3M433.12 793.50v1.5M434.62 792.00v1.5M436.12 789.00v3M437.62 787.50v1.5M439.12 786.00v1.5M440.62 784.50v1.5M442.12 781.50v3M443.62 780.00v1.5M445.12 778.50v1.5M446.62 777.00v1.5M451.12 774.00v1.5M479.62 774.00v1.5M481.12 775.50v1.5M482.62 777.00v1.5M484.12 778.50v1.5M485.62 780.00v1.5M487.12 781.50v1.5M488.62 783.00v3M490.12 786.00v3M491.62 789.00v1.5M493.12 790.50v3M494.62 793.50v3M496.12 796.50v3M497.62 799.50v3M499.12 802.50v3M500.62 805.50v3M502.12 810.00v1.5M505.12 807.00v1.5M506.62 805.50v1.5M508.12 804.00v1.5M509.62 802.50v1.5M511.12 801.00v1.5M512.62 799.50v1.5M514.12 798.00v1.5M515.62 796.50v1.5M517.12 795.00v1.5M527.62 789.00v1.5M529.12 786.00v3M530.62 784.50v1.5M532.12 783.00v1.5M533.62 781.50v1.5M535.12 783.00v3M536.62 786.00v3M538.12 789.00v1.5M539.62 790.50v3M541.12 793.50v1.5M542.62 795.00v1.5M544.12 796.50v1.5M545.62 798.00v3M547.12 801.00v1.5M548.62 802.50v1.5M550.12 804.00v1.5M551.62 805.50v1.5M553.12 807.00v1.5M554.62 808.50v3M556.12 811.50v1.5M557.62 813.00v3M559.12 816.00v3M560.62 819.00v3M562.12 822.00v3M563.62 825.00v3M565.12 828.00v1.5M566.62 829.50v3M568.12 832.50v3M569.62 835.50v3M571.12 838.50v3M572.62 841.50v1.5M574.12 843.00v1.5M578.62 846.00v1.5M620.62 859.50v1.5M622.12 858.00v1.5M623.62 856.50v1.5M625.12 855.00v1.5M626.62 853.50v1.5M644.62 846.00v1.5M649.12 843.00v1.5M650.62 841.50v1.5M652.12 838.50v3M653.62 834.00v4.5M655.12 829.50v4.5M656.62 826.50v3M658.12 822.00v4.5M659.62 820.50v1.5M676.12 826.50v1.5M677.62 825.00v1.5M679.12 823.50v1.5M680.62 822.00v1.5M682.12 820.50v1.5M692.62 819.00v3M694.12 822.00v3M695.62 825.00v1.5M697.12 826.50v3M698.62 829.50v1.5M700.12 831.00v1.5M701.62 832.50v1.5M703.12 834.00v1.5M704.62 835.50v1.5M706.12 837.00v1.5M707.62 838.50v1.5M709.12 837.00v1.5M710.62 834.00v3M712.12 832.50v1.5M713.62 831.00v1.5M715.12 829.50v1.5M716.62 826.50v3M718.12 825.00v1.5M719.62 823.50v1.5M721.12 820.50v3M722.62 819.00v1.5M724.12 817.50v1.5M725.62 816.00v1.5M727.12 813.00v3M728.62 811.50v1.5M730.12 810.00v1.5M731.62 808.50v1.5M736.12 805.50v1.5M755.62 804.00v3M757.12 807.00v3M758.62 810.00v3M760.12 813.00v1.5M764.62 816.00v1.5M766.12 817.50v1.5M770.62 820.50v1.5M772.12 822.00v3M773.62 825.00v3M775.12 828.00v3M776.62 831.00v3M785.62 834.00v1.5M787.12 828.00v6M788.62 823.50v4.5M790.12 819.00v4.5M791.62 813.00v6M793.12 810.00v3M794.62 808.50v1.5M796.12 807.00v1.5M797.62 804.00v3M799.12 802.50v1.5M800.62 801.00v1.5M802.12 799.50v1.5M803.62 798.00v1.5M805.12 795.00v3M806.62 793.50v1.5M808.12 792.00v1.5M842.62 790.50v1.5M844.12 787.50v3M845.62 786.00v1.5M847.12 784.50v1.5M848.62 783.00v1.5M850.12 781.50v1.5M854.62 778.50v1.5M856.12 777.00v1.5M857.62 775.50v1.5M859.12 774.00v1.5M863.62 771.00v1.5M865.12 769.50v1.5M898.12 775.50v1.5M899.62 774.00v1.5M901.12 772.50v1.5M902.62 771.00v1.5M913.12 768.00v3M914.62 771.00v1.5M916.12 772.50v1.5M917.62 774.00v3M919.12 777.00v1.5M920.62 778.50v1.5M922.12 780.00v1.5M926.62 783.00v1.5M928.12 784.50v1.5M935.62 789.00v3M937.12 792.00v3M938.62 795.00v4.5M940.12 799.50v4.5M941.62 804.00v3M943.12 807.00v4.5M944.62 811.50v3M946.12 814.50v3M947.62 817.50v3M949.12 820.50v3M950.62 823.50v3M952.12 826.50v1.5M953.62 828.00v1.5M955.12 829.50v3M956.62 832.50v1.5M958.12 834.00v1.5M959.62 835.50v1.5M961.12 837.00v1.5M962.62 838.50v3M964.12 841.50v1.5M965.62 843.00v1.5M976.12 844.50v1.5M977.62 843.00v1.5M979.12 841.50v1.5M980.62 840.00v1.5M1000.12 834.00v1.5M1004.62 837.00v1.5M1006.12 838.50v1.5M1007.62 835.50v3M1009.12 834.00v1.5M1010.62 832.50v1.5M1012.12 829.50v3M1013.62 828.00v1.5M1015.12 829.50v1.5M1016.62 831.00v1.5M1018.12 832.50v1.5M1019.62 834.00v1.5M1021.12 835.50v1.5M1031.62 834.00v3M1033.12 831.00v3M1034.62 829.50v1.5M1036.12 826.50v3M1037.62 823.50v3M1039.12 820.50v3M1040.62 817.50v3M1042.12 814.50v3M1043.62 811.50v3M1045.12 810.00v1.5M1046.62 807.00v3M1048.12 804.00v3M1049.62 802.50v1.5M1051.12 799.50v3M1052.62 796.50v3M1054.12 795.00v1.5M1055.62 793.50v1.5M1057.12 790.50v3M1058.62 789.00v1.5M1060.12 787.50v1.5M1061.62 786.00v1.5M1069.12 781.50v1.5M1070.62 783.00v1.5M1075.12 786.00v1.5M1076.62 787.50v1.5M1078.12 789.00v3M1079.62 792.00v3M1081.12 795.00v1.5M1082.62 796.50v3M1084.12 799.50v3M1085.62 802.50v3M1087.12 805.50v3M1088.62 808.50v3M1090.12 811.50v3M1091.62 814.50v3M1093.12 817.50v4.5M1094.62 822.00v3M1096.12 825.00v3M1097.62 828.00v3M1099.12 831.00v3M1136.62 840.00v1.5M1150.12 832.50v1.5M1151.62 829.50v3M1153.12 828.00v1.5M1154.62 826.50v1.5M1156.12 825.00v1.5M1157.62 823.50v1.5M1159.12 822.00v1.5M1160.62 819.00v3M1162.12 817.50v1.5M1163.62 816.00v1.5M1165.12 814.50v1.5M1166.62 811.50v3M1168.12 808.50v3M1169.62 805.50v3M1171.12 802.50v3M1172.62 799.50v3M1174.12 796.50v3M1175.62 793.50v3M1177.12 790.50v3M1178.62 787.50v3M1180.12 786.00v1.5M1181.62 784.50v1.5M1186.12 781.50v1.5M1187.62 780.00v1.5M1189.12 778.50v1.5M1193.62 775.50v1.5M1211.62 766.50v1.5M1213.12 768.00v1.5M1214.62 769.50v3M1216.12 772.50v1.5M1217.62 774.00v1.5M1219.12 775.50v1.5M1226.62 771.00v1.5M1243.12 780.00v1.5M1244.62 781.50v3M1246.12 784.50v3M1247.62 787.50v1.5M1249.12 789.00v3M1250.62 792.00v1.5M1252.12 789.00v3M1253.62 786.00v3M1255.12 784.50v1.5M1256.62 781.50v3M1258.12 780.00v1.5M1259.62 778.50v1.5M1261.12 777.00v1.5M1262.62 775.50v1.5M1264.12 774.00v1.5M1265.62 772.50v1.5M1267.12 771.00v1.5M1330.12 766.50v1.5M1331.62 768.00v3M1333.12 771.00v3M1334.62 774.00v3M1336.12 777.00v3M1337.62 780.00v3M1339.12 783.00v4.5M1340.62 787.50v4.5M1342.12 792.00v4.5M1343.62 796.50v4.5M1345.12 801.00v3M1346.62 804.00v1.5M1348.12 805.50v1.5M1349.62 807.00v1.5M1351.12 808.50v1.5M1363.12 811.50v3M1364.62 814.50v3M1366.12 817.50v1.5M1367.62 819.00v3M1376.62 826.50v1.5M1378.12 828.00v3M1379.62 831.00v3M1381.12 834.00v3M1382.62 837.00v3M1384.12 840.00v1.5M1385.62 841.50v1.5M1387.12 843.00v1.5M1388.62 844.50v1.5M1390.12 846.00v1.5M1391.62 847.50v1.5M1420.12 853.50v1.5M1424.62 850.50v1.5M1426.12 847.50v3M1427.62 844.50v3M1429.12 843.00v1.5M1430.62 840.00v3M1432.12 837.00v3M1433.62 834.00v3M1435.12 829.50v4.5M1436.62 826.50v3M1438.12 823.50v3M1439.62 820.50v3" fill="none" stroke="#ffffff" stroke-width="1.6" />
<path d="M732.37 819.75h3M795.37 818.25h3M1102.87 818.25h3M736.87 816.75h3M414.37 815.25h12M741.37 813.75h3M768.37 813.75h3M744.37 812.25h3M765.37 812.25h3M747.37 810.75h3M762.37 810.75h3M750.37 809.25h3M757.87 809.25h4.5M1371.37 809.25h3M343.87 807.75h9M432.37 807.75h3M753.37 807.75h4.5M12.37 806.25h3M138.37 806.25h9M352.87 806.25h4.5M808.87 806.25h3M15.37 804.75h3M147.37 804.75h3M339.37 804.75h3M357.37 804.75h3M811.87 804.75h3M18.37 803.25h3M360.37 803.25h3M814.87 803.25h6M151.87 801.75h3M363.37 801.75h3M820.87 801.75h7.5M366.37 800.25h3M828.37 800.25h6M24.37 798.75h3M369.37 798.75h4.5M553.87 798.75h3M834.37 798.75h4.5M373.87 797.25h3M550.87 797.25h3M838.87 797.25h4.5M1069.87 797.25h3M507.37 795.75h13.5M547.87 795.75h3M843.37 795.75h3M1072.87 795.75h3M1080.37 795.75h3M1357.87 795.75h3M30.37 794.25h3M504.37 794.25h3M520.87 794.25h3M544.87 794.25h3M846.37 794.25h3M1075.87 794.25h4.5M33.37 792.75h3M393.37 792.75h3M501.37 792.75h3M523.87 792.75h4.5M541.87 792.75h3M1353.37 792.75h3M121.87 791.25h3M324.37 791.25h3M390.37 791.25h3M448.87 791.25h3M528.37 791.25h3M537.37 791.25h4.5M850.87 791.25h3M117.37 789.75h4.5M165.37 789.75h3M321.37 789.75h3M382.87 789.75h7.5M531.37 789.75h6M1195.87 789.75h3M39.37 788.25h3M112.87 788.25h4.5M109.87 786.75h3M316.87 786.75h3M1200.37 786.75h3M43.87 785.25h3M97.87 785.25h12M456.37 785.25h3M858.37 785.25h3M46.87 783.75h4.5M94.87 783.75h3M172.87 783.75h3M459.37 783.75h3M861.37 783.75h3M51.37 782.25h6M90.37 782.25h4.5M175.87 782.25h3M462.37 782.25h3M864.37 782.25h3M1206.37 782.25h3M1249.87 782.25h10.5M57.37 780.75h6M87.37 780.75h3M178.87 780.75h4.5M309.37 780.75h3M465.37 780.75h4.5M489.37 780.75h3M867.37 780.75h3M1246.87 780.75h3M1260.37 780.75h3M63.37 779.25h3M84.37 779.25h3M183.37 779.25h6M469.87 779.25h4.5M870.37 779.25h13.5M930.37 779.25h3M1210.87 779.25h4.5M1243.87 779.25h3M1263.37 779.25h3M66.37 777.75h6M79.87 777.75h4.5M189.37 777.75h3M474.37 777.75h3M483.37 777.75h4.5M883.87 777.75h16.5M927.37 777.75h3M1215.37 777.75h7.5M1239.37 777.75h4.5M1266.37 777.75h3M72.37 776.25h7.5M192.37 776.25h4.5M477.37 776.25h6M900.37 776.25h6M921.37 776.25h6M1222.87 776.25h16.5M1269.37 776.25h3M196.87 774.75h3M906.37 774.75h3M915.37 774.75h6M1272.37 774.75h6M199.87 773.25h7.5M214.87 773.25h6M909.37 773.25h6M1278.37 773.25h7.5M207.37 771.75h7.5M220.87 771.75h4.5M1285.87 771.75h9M225.37 770.25h6M253.87 770.25h7.5M274.87 770.25h12M1294.87 770.25h6M231.37 768.75h22.5M261.37 768.75h13.5M286.87 768.75h7.5M1300.87 768.75h3M1333.87 768.75h3M294.37 767.25h3M1303.87 767.25h22.5M1330.87 767.25h3M727.87 822.75h3M778.87 822.75h3M789.37 822.75h3M688.87 824.25h6M781.87 824.25h3M786.37 824.25h3M1167.37 824.25h3M685.87 825.75h3M694.87 825.75h6M723.37 825.75h3M681.37 827.25h4.5M700.87 827.25h3M720.37 827.25h3M678.37 828.75h3M703.87 828.75h3M717.37 828.75h3M969.37 828.75h3M1161.37 828.75h3M673.87 830.25h4.5M706.87 830.25h10.5M1116.37 830.25h3M580.87 831.75h3M669.37 831.75h4.5M973.87 831.75h3M1119.37 831.75h3M1156.87 831.75h3M666.37 833.25h3M976.87 833.25h3M1011.37 833.25h7.5M1035.37 833.25h3M1122.37 833.25h4.5M1153.87 833.25h3M585.37 834.75h3M663.37 834.75h3M979.87 834.75h22.5M1008.37 834.75h3M1018.87 834.75h7.5M1032.37 834.75h3M1126.87 834.75h3M1150.87 834.75h3M1395.37 834.75h3M660.37 836.25h3M1002.37 836.25h6M1026.37 836.25h6M1129.87 836.25h21M1402.87 840.75h3M595.87 843.75h3M598.87 845.25h3M1408.87 845.25h3M601.87 846.75h4.5M649.87 846.75h3M1411.87 846.75h3M1429.87 846.75h3M606.37 848.25h4.5M645.37 848.25h4.5M1414.87 848.25h6M1426.87 848.25h3M610.87 849.75h4.5M639.37 849.75h6M1420.87 849.75h6M615.37 851.25h3M631.87 851.25h7.5M618.37 852.75h13.5M1326.37 765.75h4.5M5.62 819.00v1.5M7.12 816.00v3M8.62 813.00v3M10.12 810.00v3M11.62 807.00v3M22.12 801.00v1.5M23.62 799.50v1.5M28.12 796.50v1.5M29.62 795.00v1.5M37.12 790.50v1.5M38.62 789.00v1.5M43.12 786.00v1.5M125.62 792.00v1.5M127.12 793.50v1.5M128.62 795.00v1.5M130.12 796.50v1.5M131.62 798.00v1.5M133.12 799.50v1.5M134.62 801.00v1.5M136.12 802.50v1.5M137.62 804.00v1.5M151.12 802.50v1.5M155.62 799.50v1.5M157.12 798.00v1.5M158.62 796.50v1.5M160.12 795.00v1.5M161.62 793.50v1.5M163.12 792.00v1.5M164.62 790.50v1.5M169.12 787.50v1.5M170.62 786.00v1.5M172.12 784.50v1.5M298.12 768.00v1.5M299.62 769.50v1.5M301.12 771.00v1.5M302.62 772.50v1.5M304.12 774.00v1.5M305.62 775.50v1.5M307.12 777.00v1.5M308.62 778.50v1.5M313.12 781.50v1.5M314.62 783.00v1.5M316.12 784.50v1.5M320.62 787.50v1.5M328.12 792.00v1.5M329.62 793.50v1.5M331.12 795.00v1.5M332.62 796.50v1.5M334.12 798.00v1.5M335.62 799.50v1.5M337.12 801.00v1.5M338.62 802.50v1.5M343.12 805.50v1.5M377.62 795.00v1.5M379.12 793.50v1.5M380.62 792.00v1.5M382.12 790.50v1.5M397.12 793.50v1.5M398.62 795.00v1.5M400.12 796.50v1.5M401.62 798.00v3M403.12 801.00v1.5M404.62 802.50v1.5M406.12 804.00v1.5M407.62 805.50v1.5M409.12 807.00v1.5M410.62 808.50v3M412.12 811.50v1.5M413.62 813.00v1.5M427.12 813.00v1.5M428.62 811.50v1.5M430.12 810.00v1.5M431.62 808.50v1.5M436.12 805.50v1.5M437.62 804.00v1.5M439.12 802.50v1.5M440.62 801.00v1.5M442.12 798.00v3M443.62 796.50v1.5M445.12 795.00v1.5M446.62 793.50v1.5M448.12 792.00v1.5M452.62 789.00v1.5M454.12 787.50v1.5M455.62 786.00v1.5M488.62 778.50v1.5M493.12 781.50v1.5M494.62 783.00v1.5M496.12 784.50v1.5M497.62 786.00v3M499.12 789.00v1.5M500.62 790.50v1.5M557.62 799.50v1.5M559.12 801.00v1.5M560.62 802.50v3M562.12 805.50v1.5M563.62 807.00v1.5M565.12 808.50v1.5M566.62 810.00v3M568.12 813.00v3M569.62 816.00v1.5M571.12 817.50v3M572.62 820.50v1.5M574.12 822.00v1.5M575.62 823.50v3M577.12 826.50v1.5M578.62 828.00v1.5M580.12 829.50v1.5M584.62 832.50v1.5M589.12 835.50v1.5M590.62 837.00v1.5M592.12 838.50v1.5M593.62 840.00v1.5M595.12 841.50v1.5M653.62 844.50v1.5M655.12 841.50v3M656.62 840.00v1.5M658.12 838.50v1.5M659.62 837.00v1.5M727.12 823.50v1.5M731.62 820.50v1.5M736.12 817.50v1.5M740.62 814.50v1.5M772.12 814.50v1.5M773.62 816.00v1.5M775.12 817.50v1.5M776.62 819.00v1.5M778.12 820.50v1.5M785.62 825.00v1.5M793.12 820.50v1.5M794.62 819.00v1.5M799.12 816.00v1.5M800.62 814.50v1.5M802.12 813.00v1.5M803.62 811.50v1.5M805.12 810.00v1.5M806.62 808.50v1.5M808.12 807.00v1.5M850.12 792.00v1.5M854.62 789.00v1.5M856.12 787.50v1.5M857.62 786.00v1.5M934.12 780.00v1.5M935.62 781.50v1.5M937.12 783.00v1.5M938.62 784.50v3M940.12 787.50v1.5M941.62 789.00v1.5M943.12 790.50v1.5M944.62 792.00v3M946.12 795.00v1.5M947.62 796.50v1.5M949.12 798.00v3M950.62 801.00v1.5M952.12 802.50v3M953.62 805.50v1.5M955.12 807.00v1.5M956.62 808.50v3M958.12 811.50v1.5M959.62 813.00v1.5M961.12 814.50v3M962.62 817.50v3M964.12 820.50v1.5M965.62 822.00v3M967.12 825.00v1.5M968.62 826.50v1.5M973.12 829.50v1.5M1039.12 831.00v1.5M1040.62 829.50v1.5M1042.12 828.00v1.5M1043.62 826.50v1.5M1045.12 825.00v1.5M1046.62 823.50v1.5M1048.12 822.00v1.5M1049.62 819.00v3M1051.12 817.50v1.5M1052.62 816.00v1.5M1054.12 814.50v1.5M1055.62 813.00v1.5M1057.12 810.00v3M1058.62 808.50v1.5M1060.12 807.00v1.5M1061.62 805.50v1.5M1063.12 804.00v1.5M1064.62 802.50v1.5M1066.12 801.00v1.5M1067.62 799.50v1.5M1069.12 798.00v1.5M1084.12 796.50v1.5M1085.62 798.00v1.5M1087.12 799.50v1.5M1088.62 801.00v1.5M1090.12 802.50v1.5M1091.62 804.00v1.5M1093.12 805.50v1.5M1094.62 807.00v1.5M1096.12 808.50v3M1097.62 811.50v1.5M1099.12 813.00v1.5M1100.62 814.50v1.5M1102.12 816.00v1.5M1106.62 819.00v1.5M1108.12 820.50v1.5M1109.62 822.00v1.5M1111.12 823.50v1.5M1112.62 825.00v1.5M1114.12 826.50v1.5M1115.62 828.00v1.5M1160.62 829.50v1.5M1165.12 826.50v1.5M1166.62 825.00v1.5M1171.12 822.00v1.5M1172.62 820.50v1.5M1174.12 817.50v3M1175.62 814.50v3M1177.12 813.00v1.5M1178.62 810.00v3M1180.12 808.50v1.5M1181.62 807.00v1.5M1183.12 804.00v3M1184.62 802.50v1.5M1186.12 801.00v1.5M1187.62 799.50v1.5M1189.12 798.00v1.5M1190.62 795.00v3M1192.12 793.50v1.5M1193.62 792.00v1.5M1195.12 790.50v1.5M1199.62 787.50v1.5M1204.12 784.50v1.5M1205.62 783.00v1.5M1210.12 780.00v1.5M1337.62 769.50v1.5M1339.12 771.00v3M1340.62 774.00v1.5M1342.12 775.50v1.5M1343.62 777.00v3M1345.12 780.00v1.5M1346.62 781.50v3M1348.12 784.50v1.5M1349.62 786.00v1.5M1351.12 787.50v3M1352.62 790.50v1.5M1357.12 793.50v1.5M1361.62 796.50v1.5M1363.12 798.00v1.5M1364.62 799.50v3M1366.12 802.50v1.5M1367.62 804.00v1.5M1369.12 805.50v1.5M1370.62 807.00v1.5M1375.12 810.00v1.5M1376.62 811.50v1.5M1378.12 813.00v1.5M1379.62 814.50v3M1381.12 817.50v1.5M1382.62 819.00v1.5M1384.12 820.50v1.5M1385.62 822.00v1.5M1387.12 823.50v1.5M1388.62 825.00v3M1390.12 828.00v1.5M1391.62 829.50v1.5M1393.12 831.00v1.5M1394.62 832.50v1.5M1399.12 835.50v1.5M1400.62 837.00v1.5M1402.12 838.50v1.5M1406.62 841.50v1.5M1408.12 843.00v1.5M1433.62 844.50v1.5M1435.12 841.50v3M1436.62 840.00v1.5M1438.12 838.50v1.5M1439.62 837.00v1.5" fill="none" stroke="#ffff00" stroke-width="1.6" />
<path d="M445.87 744.75h3M1179.37 744.75h4.5M1191.37 744.75h21M171.37 746.25h4.5M168.37 747.75h3M175.87 747.75h4.5M1060.87 747.75h3M165.37 749.25h3M1063.87 749.25h3M51.37 750.75h3M162.37 750.75h3M862.87 750.75h3M1066.87 750.75h3M859.87 752.25h3M46.87 753.75h3M1297.87 756.75h9M195.37 758.25h3M228.37 758.25h3M909.37 758.25h3M1320.37 758.25h3M198.37 759.75h3M289.87 759.75h4.5M906.37 759.75h3M1323.37 759.75h3M25.87 761.25h3M72.37 761.25h4.5M201.37 761.25h6M294.37 761.25h3M381.37 761.25h3M1326.37 761.25h3M22.87 762.75h3M67.87 762.75h4.5M207.37 762.75h4.5M378.37 762.75h3M472.87 762.75h3M807.37 762.75h3M375.37 764.25h3M1281.37 764.25h4.5M1222.87 765.75h4.5M1285.87 765.75h4.5M186.37 767.25h3M240.37 767.25h3M267.37 767.25h3M531.37 767.25h3M1218.37 767.25h4.5M243.37 768.75h3M34.87 770.25h3M246.37 770.25h3M279.37 770.25h4.5M249.37 771.75h3M273.37 771.75h6M882.37 773.25h3M60.37 774.75h3M253.87 774.75h3M894.37 779.25h3M741.37 780.75h3M744.37 782.25h3M819.37 785.25h3M658.87 786.75h3M522.37 788.25h3M823.87 788.25h3M837.37 788.25h3M105.37 789.75h3M519.37 789.75h3M826.87 789.75h3M834.37 789.75h3M829.87 791.25h4.5M97.87 803.25h3M928.87 803.25h4.5M94.87 804.75h3M933.37 804.75h3M91.87 806.25h3M684.37 806.25h3M687.37 807.75h3M673.87 818.25h3M322.87 819.75h3M996.37 831.75h3M991.87 834.75h3M1143.37 836.25h3M1359.37 837.75h3M1026.37 842.25h4.5M130.87 843.75h3M634.87 843.75h4.5M1021.87 843.75h4.5M133.87 845.25h3M639.37 845.25h4.5M1344.37 845.25h4.5M136.87 846.75h3M1348.87 846.75h4.5M342.37 849.75h3M339.37 851.25h3M336.37 852.75h3M705.37 852.75h3M1372.87 854.25h4.5M1368.37 855.75h4.5M1123.87 857.25h9M777.37 861.75h3M603.37 867.75h10.5M412.87 869.25h3M613.87 869.25h3M1113.37 869.25h4.5M616.87 870.75h4.5M1108.87 870.75h4.5M1105.87 872.25h3M448.87 743.25h4.5M1183.87 743.25h7.5M453.37 741.75h3M1102.87 873.75h3M592.87 875.25h4.5M1099.87 875.25h3M588.37 876.75h4.5M1401.37 879.75h3M1410.37 879.75h3M1404.37 881.25h3M958.87 882.75h3M571.87 884.25h4.5M961.87 884.25h3M576.37 885.75h4.5M964.87 885.75h3M5.62 744.00v1.5M7.12 745.50v1.5M8.62 747.00v3M10.12 750.00v1.5M11.62 751.50v1.5M13.12 753.00v1.5M14.62 754.50v1.5M16.12 756.00v1.5M17.62 757.50v3M19.12 760.50v1.5M20.62 762.00v1.5M22.12 763.50v1.5M29.62 759.00v1.5M31.12 760.50v3M32.62 763.50v3M34.12 766.50v1.5M35.62 768.00v1.5M37.12 771.00v1.5M38.62 766.50v3M40.12 763.50v3M41.62 760.50v3M43.12 757.50v3M44.62 756.00v1.5M46.12 754.50v1.5M50.62 751.50v1.5M53.62 748.50v1.5M55.12 751.50v6M56.62 757.50v6M58.12 763.50v4.5M59.62 768.00v6M61.12 775.50v1.5M62.62 772.50v1.5M64.12 769.50v3M65.62 766.50v3M67.12 763.50v3M76.12 762.00v1.5M77.62 763.50v4.5M79.12 768.00v4.5M80.62 772.50v4.5M82.12 777.00v4.5M83.62 781.50v3M85.12 784.50v4.5M86.62 789.00v4.5M88.12 793.50v3M89.62 796.50v4.5M91.12 801.00v3M92.62 804.00v1.5M100.12 801.00v1.5M101.62 798.00v3M103.12 795.00v3M104.62 792.00v3M106.12 790.50v1.5M107.62 787.50v1.5M109.12 790.50v3M110.62 793.50v3M112.12 796.50v3M113.62 799.50v3M115.12 802.50v1.5M116.62 804.00v1.5M118.12 805.50v1.5M119.62 807.00v3M121.12 810.00v1.5M122.62 811.50v1.5M124.12 813.00v4.5M125.62 817.50v6M127.12 823.50v6M128.62 829.50v6M130.12 835.50v6M131.62 841.50v1.5M139.12 843.00v3M140.62 835.50v7.5M142.12 828.00v7.5M143.62 822.00v6M145.12 814.50v7.5M146.62 807.00v7.5M148.12 799.50v7.5M149.62 792.00v7.5M151.12 784.50v7.5M152.62 777.00v7.5M154.12 769.50v7.5M155.62 763.50v6M157.12 760.50v3M158.62 757.50v3M160.12 754.50v3M161.62 751.50v3M179.62 748.50v1.5M181.12 750.00v4.5M182.62 754.50v4.5M184.12 759.00v3M185.62 762.00v4.5M187.12 768.00v1.5M188.62 765.00v1.5M190.12 762.00v3M191.62 760.50v1.5M193.12 757.50v3M194.62 756.00v1.5M212.62 763.50v3M214.12 766.50v3M215.62 769.50v1.5M217.12 771.00v3M218.62 774.00v1.5M220.12 771.00v3M221.62 768.00v3M223.12 766.50v1.5M224.62 763.50v3M226.12 760.50v3M227.62 759.00v1.5M232.12 756.00v1.5M233.62 754.50v1.5M235.12 756.00v3M236.62 759.00v3M238.12 762.00v1.5M239.62 763.50v3M253.12 772.50v1.5M257.62 775.50v1.5M259.12 772.50v3M260.62 769.50v3M262.12 768.00v1.5M263.62 765.00v3M265.12 763.50v1.5M266.62 765.00v1.5M271.12 768.00v1.5M272.62 769.50v1.5M284.62 766.50v3M286.12 765.00v1.5M287.62 763.50v1.5M289.12 760.50v3M296.62 762.00v3M298.12 765.00v9M299.62 774.00v9M301.12 783.00v12M302.62 795.00v10.5M304.12 805.50v12M305.62 817.50v6M307.12 823.50v1.5M308.62 825.00v1.5M310.12 826.50v1.5M311.62 828.00v1.5M313.12 829.50v1.5M314.62 826.50v3M316.12 823.50v3M317.62 820.50v3M319.12 817.50v3M320.62 816.00v1.5M322.12 817.50v1.5M326.62 820.50v1.5M328.12 822.00v3M329.62 825.00v6M331.12 831.00v4.5M332.62 835.50v4.5M334.12 840.00v6M335.62 846.00v4.5M337.12 850.50v1.5M344.62 844.50v4.5M346.12 835.50v9M347.62 825.00v10.5M349.12 816.00v9M350.62 808.50v7.5M352.12 804.00v4.5M353.62 799.50v4.5M355.12 796.50v3M356.62 792.00v4.5M358.12 787.50v4.5M359.62 784.50v3M361.12 781.50v3M362.62 778.50v3M364.12 777.00v1.5M365.62 774.00v3M367.12 772.50v1.5M368.62 771.00v1.5M370.12 769.50v1.5M371.62 768.00v1.5M373.12 766.50v1.5M374.62 765.00v1.5M383.62 762.00v3M385.12 765.00v6M386.62 771.00v6M388.12 777.00v6M389.62 783.00v6M391.12 789.00v6M392.62 795.00v7.5M394.12 802.50v6M395.62 808.50v7.5M397.12 816.00v7.5M398.62 823.50v6M400.12 829.50v6M401.62 835.50v3M403.12 838.50v4.5M404.62 843.00v3M406.12 846.00v3M407.62 849.00v4.5M409.12 853.50v4.5M410.62 858.00v4.5M412.12 862.50v3M413.62 865.50v3M415.12 870.00v3M416.62 859.50v9M418.12 852.00v7.5M419.62 843.00v9M421.12 835.50v7.5M422.62 826.50v9M424.12 817.50v9M425.62 805.50v12M427.12 793.50v12M428.62 781.50v12M430.12 774.00v7.5M431.62 771.00v3M433.12 768.00v3M434.62 765.00v3M436.12 762.00v3M437.62 759.00v3M439.12 757.50v1.5M440.62 754.50v3M442.12 751.50v3M443.62 748.50v3M445.12 745.50v3M457.12 742.50v3M458.62 745.50v1.5M460.12 747.00v1.5M461.62 748.50v3M463.12 751.50v1.5M464.62 753.00v1.5M466.12 754.50v1.5M467.62 756.00v1.5M469.12 757.50v1.5M470.62 759.00v1.5M472.12 760.50v1.5M476.62 763.50v1.5M478.12 765.00v3M479.62 768.00v3M481.12 771.00v3M482.62 774.00v3M484.12 777.00v3M485.62 780.00v3M487.12 783.00v3M488.62 786.00v6M490.12 792.00v6M491.62 798.00v4.5M493.12 802.50v6M494.62 808.50v6M496.12 814.50v7.5M497.62 822.00v7.5M499.12 829.50v7.5M500.62 837.00v7.5M502.12 844.50v4.5M503.62 838.50v6M505.12 831.00v7.5M506.62 823.50v7.5M508.12 817.50v6M509.62 811.50v6M511.12 808.50v3M512.62 804.00v4.5M514.12 801.00v3M515.62 796.50v4.5M517.12 793.50v3M518.62 790.50v3M526.12 784.50v3M527.62 780.00v4.5M529.12 775.50v4.5M530.62 771.00v4.5M532.12 768.00v3M533.62 763.50v3M535.12 768.00v6M536.62 774.00v7.5M538.12 781.50v6M539.62 787.50v6M541.12 793.50v6M542.62 799.50v3M544.12 802.50v4.5M545.62 807.00v3M547.12 810.00v3M548.62 813.00v4.5M550.12 817.50v3M551.62 820.50v3M553.12 823.50v3M554.62 826.50v1.5M556.12 828.00v3M557.62 831.00v4.5M559.12 835.50v7.5M560.62 843.00v7.5M562.12 850.50v7.5M563.62 858.00v7.5M565.12 865.50v6M566.62 871.50v3M568.12 874.50v3M569.62 877.50v3M571.12 880.50v3M581.62 883.50v1.5M583.12 882.00v1.5M584.62 880.50v1.5M586.12 879.00v1.5M587.62 877.50v1.5M598.12 873.00v1.5M599.62 871.50v1.5M601.12 870.00v1.5M602.62 868.50v1.5M620.62 871.50v1.5M622.12 865.50v4.5M623.62 861.00v4.5M625.12 858.00v3M626.62 853.50v4.5M628.12 850.50v3M629.62 849.00v1.5M631.12 847.50v1.5M632.62 846.00v1.5M634.12 844.50v1.5M644.62 841.50v3M646.12 838.50v3M647.62 835.50v3M649.12 832.50v3M650.62 829.50v3M652.12 823.50v6M653.62 814.50v9M655.12 805.50v9M656.62 796.50v9M658.12 787.50v9M659.62 783.00v3M661.12 787.50v1.5M662.62 789.00v4.5M664.12 793.50v4.5M665.62 798.00v3M667.12 801.00v3M668.62 804.00v3M670.12 807.00v3M671.62 810.00v3M673.12 813.00v3M674.62 816.00v1.5M676.12 819.00v1.5M677.62 814.50v3M679.12 811.50v3M680.62 808.50v3M682.12 805.50v3M683.62 804.00v1.5M691.12 808.50v3M692.62 811.50v6M694.12 817.50v6M695.62 823.50v4.5M697.12 828.00v6M698.62 834.00v4.5M700.12 838.50v3M701.62 841.50v3M703.12 844.50v3M704.62 847.50v3M706.12 850.50v1.5M707.62 853.50v1.5M709.12 847.50v4.5M710.62 843.00v4.5M712.12 838.50v4.5M713.62 834.00v4.5M715.12 829.50v4.5M716.62 825.00v4.5M718.12 820.50v4.5M719.62 816.00v4.5M721.12 811.50v4.5M722.62 807.00v4.5M724.12 804.00v3M725.62 801.00v3M727.12 798.00v3M728.62 795.00v3M730.12 792.00v3M731.62 790.50v1.5M733.12 787.50v3M734.62 786.00v1.5M736.12 784.50v1.5M737.62 781.50v3M739.12 780.00v1.5M740.62 778.50v1.5M748.12 783.00v1.5M749.62 784.50v1.5M751.12 786.00v3M752.62 789.00v1.5M754.12 790.50v4.5M755.62 795.00v7.5M757.12 802.50v6M758.62 808.50v7.5M760.12 816.00v4.5M761.62 820.50v3M763.12 823.50v3M764.62 826.50v3M766.12 829.50v1.5M767.62 831.00v3M769.12 834.00v3M770.62 837.00v3M772.12 840.00v6M773.62 846.00v4.5M775.12 850.50v4.5M776.62 855.00v6M778.12 862.50v1.5M781.12 859.50v1.5M782.62 858.00v1.5M784.12 856.50v1.5M785.62 849.00v7.5M787.12 837.00v12M788.62 825.00v12M790.12 813.00v12M791.62 801.00v12M793.12 792.00v9M794.62 789.00v3M796.12 786.00v3M797.62 781.50v4.5M799.12 778.50v3M800.62 775.50v3M802.12 772.50v3M803.62 769.50v3M805.12 766.50v3M806.62 765.00v1.5M808.12 763.50v1.5M809.62 760.50v1.5M811.12 763.50v4.5M812.62 768.00v4.5M814.12 772.50v3M815.62 775.50v4.5M817.12 780.00v3M818.62 783.00v1.5M823.12 786.00v1.5M841.12 784.50v3M842.62 780.00v4.5M844.12 775.50v4.5M845.62 772.50v3M847.12 768.00v4.5M848.62 765.00v3M850.12 763.50v1.5M851.62 762.00v1.5M853.12 759.00v3M854.62 757.50v1.5M856.12 756.00v1.5M857.62 754.50v1.5M859.12 753.00v1.5M865.12 748.50v1.5M866.62 751.50v3M868.12 754.50v3M869.62 757.50v3M871.12 760.50v3M872.62 763.50v1.5M874.12 765.00v3M875.62 768.00v3M877.12 771.00v1.5M878.62 772.50v3M880.12 775.50v1.5M881.62 774.00v1.5M886.12 771.00v1.5M887.62 769.50v1.5M889.12 771.00v1.5M890.62 772.50v1.5M892.12 774.00v3M893.62 777.00v1.5M896.62 780.00v1.5M898.12 775.50v3M899.62 771.00v4.5M901.12 768.00v3M902.62 765.00v3M904.12 762.00v3M905.62 760.50v1.5M911.62 756.00v1.5M913.12 759.00v6M914.62 765.00v4.5M916.12 769.50v4.5M917.62 774.00v6M919.12 780.00v4.5M920.62 784.50v3M922.12 787.50v3M923.62 790.50v3M925.12 793.50v3M926.62 796.50v3M928.12 799.50v3M935.62 805.50v3M937.12 808.50v9M938.62 817.50v7.5M940.12 825.00v7.5M941.62 832.50v9M943.12 841.50v6M944.62 847.50v4.5M946.12 852.00v6M947.62 858.00v4.5M949.12 862.50v4.5M950.62 867.00v3M952.12 870.00v3M953.62 873.00v1.5M955.12 874.50v3M956.62 877.50v1.5M958.12 879.00v3M968.62 883.50v1.5M970.12 880.50v3M971.62 879.00v1.5M973.12 877.50v1.5M974.62 874.50v3M976.12 868.50v6M977.62 862.50v6M979.12 856.50v6M980.62 850.50v6M982.12 847.50v3M983.62 844.50v3M985.12 843.00v1.5M986.62 841.50v1.5M988.12 838.50v3M989.62 837.00v1.5M991.12 835.50v1.5M995.62 832.50v1.5M998.62 829.50v1.5M1000.12 832.50v3M1001.62 835.50v3M1003.12 838.50v3M1004.62 841.50v3M1006.12 844.50v3M1007.62 838.50v6M1009.12 832.50v6M1010.62 826.50v6M1012.12 820.50v6M1013.62 817.50v3M1015.12 820.50v4.5M1016.62 825.00v4.5M1018.12 829.50v3M1019.62 832.50v4.5M1021.12 837.00v4.5M1022.62 841.50v1.5M1030.12 838.50v3M1031.62 832.50v6M1033.12 825.00v7.5M1034.62 819.00v6M1036.12 813.00v6M1037.62 807.00v6M1039.12 801.00v6M1040.62 795.00v6M1042.12 789.00v6M1043.62 783.00v6M1045.12 778.50v4.5M1046.62 774.00v4.5M1048.12 771.00v3M1049.62 766.50v4.5M1051.12 762.00v4.5M1052.62 759.00v3M1054.12 756.00v3M1055.62 754.50v1.5M1057.12 751.50v3M1058.62 750.00v1.5M1060.12 748.50v1.5M1070.62 751.50v3M1072.12 754.50v6M1073.62 760.50v6M1075.12 766.50v6M1076.62 772.50v6M1078.12 778.50v6M1079.62 784.50v6M1081.12 790.50v6M1082.62 796.50v6M1084.12 802.50v6M1085.62 808.50v6M1087.12 814.50v6M1088.62 820.50v7.5M1090.12 828.00v6M1091.62 834.00v6M1093.12 840.00v7.5M1094.62 847.50v6M1096.12 853.50v6M1097.62 859.50v6M1099.12 865.50v6M1100.62 871.50v3M1118.62 865.50v3M1120.12 862.50v3M1121.62 861.00v1.5M1123.12 858.00v3M1132.12 855.00v1.5M1133.62 852.00v3M1135.12 849.00v3M1136.62 846.00v3M1138.12 843.00v3M1139.62 840.00v3M1141.12 838.50v1.5M1142.62 837.00v1.5M1147.12 834.00v1.5M1148.62 831.00v3M1150.12 828.00v3M1151.62 823.50v4.5M1153.12 820.50v3M1154.62 817.50v3M1156.12 813.00v4.5M1157.62 810.00v3M1159.12 807.00v3M1160.62 802.50v4.5M1162.12 799.50v3M1163.62 796.50v3M1165.12 792.00v4.5M1166.62 787.50v4.5M1168.12 781.50v6M1169.62 777.00v4.5M1171.12 772.50v4.5M1172.62 768.00v4.5M1174.12 762.00v6M1175.62 757.50v4.5M1177.12 753.00v4.5M1178.62 747.00v6M1180.12 745.50v1.5M1211.62 745.50v1.5M1213.12 747.00v4.5M1214.62 751.50v4.5M1216.12 756.00v4.5M1217.62 760.50v4.5M1219.12 765.00v1.5M1228.12 766.50v1.5M1229.62 768.00v3M1231.12 771.00v1.5M1232.62 772.50v1.5M1234.12 774.00v1.5M1235.62 775.50v3M1237.12 778.50v1.5M1238.62 780.00v1.5M1240.12 781.50v3M1241.62 784.50v1.5M1243.12 786.00v3M1244.62 789.00v4.5M1246.12 793.50v4.5M1247.62 798.00v4.5M1249.12 802.50v4.5M1250.62 807.00v3M1252.12 801.00v6M1253.62 795.00v6M1255.12 789.00v6M1256.62 783.00v6M1258.12 778.50v4.5M1259.62 775.50v3M1261.12 772.50v3M1262.62 769.50v3M1264.12 766.50v3M1265.62 763.50v3M1267.12 760.50v3M1268.62 759.00v1.5M1270.12 756.00v3M1271.62 754.50v1.5M1273.12 753.00v1.5M1274.62 751.50v1.5M1276.12 753.00v3M1277.62 756.00v3M1279.12 759.00v1.5M1280.62 760.50v3M1291.12 763.50v1.5M1292.62 762.00v1.5M1294.12 760.50v1.5M1295.62 759.00v1.5M1297.12 757.50v1.5M1307.62 757.50v3M1309.12 760.50v1.5M1310.62 762.00v1.5M1312.12 763.50v3M1313.62 766.50v1.5M1315.12 765.00v1.5M1316.62 762.00v3M1318.12 760.50v1.5M1319.62 759.00v1.5M1330.12 762.00v4.5M1331.62 766.50v7.5M1333.12 774.00v7.5M1334.62 781.50v6M1336.12 787.50v7.5M1337.62 795.00v9M1339.12 804.00v9M1340.62 813.00v9M1342.12 822.00v9M1343.62 831.00v9M1345.12 840.00v4.5M1354.12 844.50v1.5M1355.62 843.00v1.5M1357.12 840.00v3M1358.62 838.50v1.5M1361.62 835.50v1.5M1363.12 838.50v3M1364.62 841.50v4.5M1366.12 846.00v4.5M1367.62 850.50v3M1369.12 853.50v1.5M1376.62 855.00v1.5M1378.12 856.50v4.5M1379.62 861.00v4.5M1381.12 865.50v4.5M1382.62 870.00v4.5M1384.12 874.50v3M1385.62 877.50v1.5M1387.12 879.00v1.5M1388.62 880.50v1.5M1390.12 882.00v1.5M1391.62 883.50v1.5M1393.12 885.00v1.5M1394.62 883.50v1.5M1396.12 882.00v1.5M1397.62 880.50v1.5M1399.12 879.00v1.5M1400.62 877.50v1.5M1408.12 882.00v1.5M1409.62 880.50v1.5M1414.12 877.50v1.5M1415.62 874.50v3M1417.12 870.00v4.5M1418.62 867.00v3M1420.12 862.50v4.5M1421.62 858.00v4.5M1423.12 855.00v3M1424.62 849.00v6M1426.12 841.50v7.5M1427.62 834.00v7.5M1429.12 828.00v6M1430.62 820.50v7.5M1432.12 814.50v6M1433.62 808.50v6M1435.12 802.50v6M1436.62 796.50v6M1438.12 790.50v6M1439.62 787.50v3" fill="none" stroke="#ff00ff" stroke-width="1.6" />
<g>
<text x="1.8" y="29.3" fill="#ffffff" textLength="179.5" lengthAdjust="spacingAndGlyphs" style="font-weight:300;font-size:18.6px;stroke:none">上证指数(日线.前复权)</text>
<text x="212" y="28.6" fill="#ffffff" textLength="115" lengthAdjust="spacingAndGlyphs">EXPMA(12,50)</text>
<text x="336" y="28.6" fill="#ffffff" textLength="47" lengthAdjust="spacingAndGlyphs">EXP1:</text>
<text x="390" y="28.6" fill="#ffffff" textLength="65" lengthAdjust="spacingAndGlyphs">2951.06</text>
<text x="465" y="28.6" fill="#ffff00" textLength="48" lengthAdjust="spacingAndGlyphs">EXP2:</text>
<text x="519" y="28.6" fill="#ffff00" textLength="65" lengthAdjust="spacingAndGlyphs">2938.45</text>
<text x="3" y="555.4" fill="#ffffff" textLength="76" lengthAdjust="spacingAndGlyphs">VOLUME:</text>
<text x="86" y="555.4" fill="#ffffff" textLength="117" lengthAdjust="spacingAndGlyphs">161203744.00</text>
<text x="213" y="555.4" fill="#ffffff" textLength="37" lengthAdjust="spacingAndGlyphs">MA5:</text>
<text x="258" y="555.4" fill="#ffffff" textLength="116" lengthAdjust="spacingAndGlyphs">133610048.00</text>
<text x="384" y="555.4" fill="#ffff00" textLength="47" lengthAdjust="spacingAndGlyphs">MA10:</text>
<text x="438" y="555.4" fill="#ffff00" textLength="118" lengthAdjust="spacingAndGlyphs">149047392.00</text>
<text x="3.3" y="730.6" fill="#ffffff" textLength="84.7" lengthAdjust="spacingAndGlyphs">KDJ(9,3,3)</text>
<text x="97.8" y="730.6" fill="#ffffff" textLength="14.2" lengthAdjust="spacingAndGlyphs">K:</text>
<text x="118.7" y="730.6" fill="#ffffff" textLength="44" lengthAdjust="spacingAndGlyphs">42.64</text>
<text x="172.6" y="730.6" fill="#ffff00" textLength="14.4" lengthAdjust="spacingAndGlyphs">D:</text>
<text x="195" y="730.6" fill="#ffff00" textLength="42.5" lengthAdjust="spacingAndGlyphs">27.61</text>
<text x="248" y="730.6" fill="#ff00ff" textLength="11.5" lengthAdjust="spacingAndGlyphs">J:</text>
<text x="267" y="730.6" fill="#ff00ff" textLength="44" lengthAdjust="spacingAndGlyphs">72.68</text>
<text x="25.5" y="516" fill="#ffffff" textLength="65.8" lengthAdjust="spacingAndGlyphs">2520.16</text>
<path d="M6 507.2H24M8.5 504.2L5.5 507.2L8.5 510.2" stroke="#ffffff" stroke-width="1.6" fill="none"/>
<text x="485.4" y="53.6" fill="#ffffff" textLength="64.4" lengthAdjust="spacingAndGlyphs">3288.45</text>
<path d="M464.5 40.5L485 47.3M463.6 43.5V39H467.5" stroke="#c4c4c4" stroke-width="1.2" fill="none"/>
<text x="1224.3" y="315" fill="#ffffff" textLength="147.5" lengthAdjust="spacingAndGlyphs">2870.49 - 2874.10</text>
<text x="1489.3" y="568.5" fill="#d80000">6000</text>
<text x="1489.3" y="618.0" fill="#d80000">4000</text>
<text x="1489.3" y="667.4" fill="#d80000">2000</text>
<text x="1471.7" y="706.8" fill="#d80000" style="font-weight:300">X1万</text>
<text x="1485.8" y="764.2" fill="#d80000">100</text>
<text x="1495.6" y="786.6" fill="#d80000">80</text>
<text x="1495.6" y="819.6" fill="#d80000">50</text>
<text x="1495.6" y="852.6" fill="#d80000">20</text>
<text x="1499.7" y="38.7" fill="#d80000">3300</text>
<text x="1499.7" y="99.6" fill="#d80000">3200</text>
<text x="1499.7" y="160.5" fill="#d80000">3100</text>
<text x="1499.7" y="221.4" fill="#d80000">3000</text>
<text x="1499.7" y="282.3" fill="#d80000">2900</text>
<text x="1499.7" y="343.2" fill="#d80000">2800</text>
<text x="1499.7" y="404.09999999999997" fill="#d80000">2700</text>
<text x="1499.7" y="464.99999999999994" fill="#d80000">2600</text>
<text x="1499.7" y="525.9" fill="#d80000">2500</text>
</g></g>
</svg></body></html>
